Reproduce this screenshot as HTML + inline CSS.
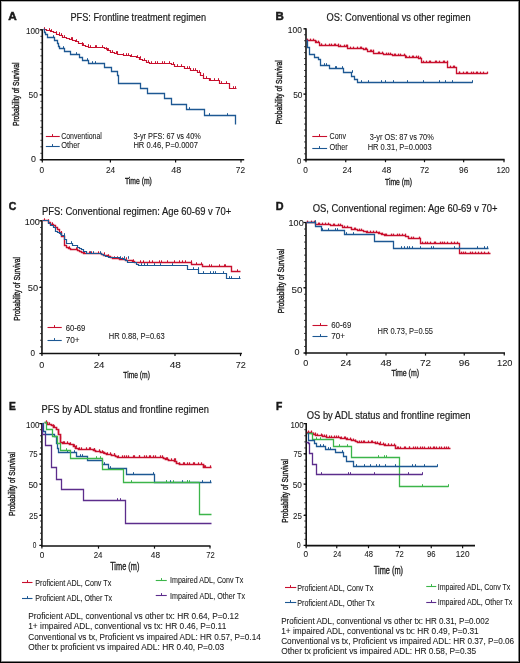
<!DOCTYPE html>
<html><head><meta charset="utf-8"><style>
html,body{margin:0;padding:0;background:#fff;}
svg{display:block;will-change:transform;}
text{font-family:"Liberation Sans",sans-serif;stroke:#1a1a1a;stroke-width:0.08px;}
</style></head><body>
<svg width="520" height="663" viewBox="0 0 520 663">
<rect width="520" height="663" fill="#fff"/>
<rect x="1" y="0" width="1" height="663" fill="#b0b0b0"/>
<rect x="0" y="1" width="520" height="1" fill="#b0b0b0"/>
<rect x="518" y="0" width="1" height="663" fill="#808080"/>
<rect x="0" y="661" width="520" height="1" fill="#808080"/>
<rect x="0" y="0" width="520" height="1" fill="#000"/>
<rect x="0" y="0" width="1" height="663" fill="#000"/>
<rect x="519" y="0" width="1" height="663" fill="#000"/>
<rect x="0" y="662" width="520" height="1" fill="#000"/>
<text x="8.2" y="19.65" font-size="11" font-weight="bold" fill="#1a1a1a" textLength="8.5" lengthAdjust="spacingAndGlyphs" style="stroke-width:0.5px">A</text>
<text x="70.5" y="20.8" font-size="10" font-weight="normal" fill="#1a1a1a" textLength="135.5" lengthAdjust="spacingAndGlyphs" style="stroke-width:0.18px">PFS: Frontline treatment regimen</text>
<line x1="42.3" y1="29.2" x2="42.3" y2="160.60000000000002" stroke="#111" stroke-width="1.6"/>
<line x1="40.4" y1="29.8" x2="42.3" y2="29.8" stroke="#222" stroke-width="0.9"/>
<line x1="40.4" y1="36.3" x2="42.3" y2="36.3" stroke="#222" stroke-width="0.9"/>
<line x1="40.4" y1="42.8" x2="42.3" y2="42.8" stroke="#222" stroke-width="0.9"/>
<line x1="40.4" y1="49.3" x2="42.3" y2="49.3" stroke="#222" stroke-width="0.9"/>
<line x1="40.4" y1="55.8" x2="42.3" y2="55.8" stroke="#222" stroke-width="0.9"/>
<line x1="40.4" y1="62.3" x2="42.3" y2="62.3" stroke="#222" stroke-width="0.9"/>
<line x1="40.4" y1="68.8" x2="42.3" y2="68.8" stroke="#222" stroke-width="0.9"/>
<line x1="40.4" y1="75.3" x2="42.3" y2="75.3" stroke="#222" stroke-width="0.9"/>
<line x1="40.4" y1="81.8" x2="42.3" y2="81.8" stroke="#222" stroke-width="0.9"/>
<line x1="40.4" y1="88.3" x2="42.3" y2="88.3" stroke="#222" stroke-width="0.9"/>
<line x1="40.4" y1="94.8" x2="42.3" y2="94.8" stroke="#222" stroke-width="0.9"/>
<line x1="40.4" y1="101.3" x2="42.3" y2="101.3" stroke="#222" stroke-width="0.9"/>
<line x1="40.4" y1="107.8" x2="42.3" y2="107.8" stroke="#222" stroke-width="0.9"/>
<line x1="40.4" y1="114.3" x2="42.3" y2="114.3" stroke="#222" stroke-width="0.9"/>
<line x1="40.4" y1="120.8" x2="42.3" y2="120.8" stroke="#222" stroke-width="0.9"/>
<line x1="40.4" y1="127.3" x2="42.3" y2="127.3" stroke="#222" stroke-width="0.9"/>
<line x1="40.4" y1="133.8" x2="42.3" y2="133.8" stroke="#222" stroke-width="0.9"/>
<line x1="40.4" y1="140.3" x2="42.3" y2="140.3" stroke="#222" stroke-width="0.9"/>
<line x1="40.4" y1="146.8" x2="42.3" y2="146.8" stroke="#222" stroke-width="0.9"/>
<line x1="40.4" y1="153.3" x2="42.3" y2="153.3" stroke="#222" stroke-width="0.9"/>
<line x1="40.4" y1="159.8" x2="42.3" y2="159.8" stroke="#222" stroke-width="0.9"/>
<line x1="39.699999999999996" y1="29.8" x2="42.3" y2="29.8" stroke="#111" stroke-width="1.2"/>
<text x="39.6" y="34.0788" font-size="8.6" text-anchor="end" fill="#1a1a1a" textLength="13.6" lengthAdjust="spacingAndGlyphs">100</text>
<line x1="39.699999999999996" y1="94.8" x2="42.3" y2="94.8" stroke="#111" stroke-width="1.2"/>
<text x="37.9" y="97.5788" font-size="8.6" text-anchor="end" fill="#1a1a1a" textLength="9.3" lengthAdjust="spacingAndGlyphs">50</text>
<line x1="39.699999999999996" y1="159.8" x2="42.3" y2="159.8" stroke="#111" stroke-width="1.2"/>
<text x="35.85" y="162.4788" font-size="8.6" text-anchor="end" fill="#1a1a1a" textLength="4.95" lengthAdjust="spacingAndGlyphs">0</text>
<line x1="41.5" y1="159.8" x2="244.2" y2="159.8" stroke="#111" stroke-width="1.6"/>
<line x1="42.3" y1="159.8" x2="42.3" y2="162.4" stroke="#111" stroke-width="1.2"/>
<text x="41.9" y="173.0" font-size="8.6" text-anchor="middle" fill="#1a1a1a" textLength="4.6" lengthAdjust="spacingAndGlyphs">0</text>
<line x1="110.4" y1="159.8" x2="110.4" y2="162.4" stroke="#111" stroke-width="1.2"/>
<text x="110.6" y="173.0" font-size="8.6" text-anchor="middle" fill="#1a1a1a" textLength="9.2" lengthAdjust="spacingAndGlyphs">24</text>
<line x1="175.6" y1="159.8" x2="175.6" y2="162.4" stroke="#111" stroke-width="1.2"/>
<text x="176.25" y="173.0" font-size="8.6" text-anchor="middle" fill="#1a1a1a" textLength="10" lengthAdjust="spacingAndGlyphs">48</text>
<line x1="241" y1="159.8" x2="241" y2="162.4" stroke="#111" stroke-width="1.2"/>
<text x="240.4" y="173.0" font-size="8.6" text-anchor="middle" fill="#1a1a1a" textLength="9.25" lengthAdjust="spacingAndGlyphs">72</text>
<text x="124.9" y="184.3" font-size="8.9" font-weight="normal" fill="#1a1a1a" textLength="27" lengthAdjust="spacingAndGlyphs" style="stroke-width:0.32px">Time (m)</text>
<text transform="translate(19.3 94.25) rotate(-90)" font-size="9.6" text-anchor="middle" fill="#1a1a1a" textLength="63.5" lengthAdjust="spacingAndGlyphs" style="stroke-width:0.4px">Probability of Survival</text>
<line x1="45.85" y1="136.5" x2="59.75" y2="136.5" stroke="#c8102e" stroke-width="1.1"/>
<line x1="52.5" y1="136.5" x2="52.5" y2="134.1" stroke="#c8102e" stroke-width="1.0"/>
<text x="61.2" y="138.9" font-size="8.3" font-weight="normal" fill="#1a1a1a" textLength="40.7" lengthAdjust="spacingAndGlyphs">Conventional</text>
<line x1="45.85" y1="146.5" x2="59.75" y2="146.5" stroke="#1d5893" stroke-width="1.1"/>
<line x1="52.5" y1="146.5" x2="52.5" y2="144.1" stroke="#1d5893" stroke-width="1.0"/>
<text x="61.2" y="148" font-size="8.3" font-weight="normal" fill="#1a1a1a" textLength="18.6" lengthAdjust="spacingAndGlyphs">Other</text>
<text x="133.4" y="139.4" font-size="8.3" font-weight="normal" fill="#1a1a1a" textLength="67.4" lengthAdjust="spacingAndGlyphs">3-yr PFS: 67 vs 40%</text>
<text x="133.4" y="147.9" font-size="8.3" font-weight="normal" fill="#1a1a1a" textLength="64.6" lengthAdjust="spacingAndGlyphs">HR 0.46, P=0.0007</text>
<text x="275.5" y="20" font-size="11" font-weight="bold" fill="#1a1a1a" textLength="8.3" lengthAdjust="spacingAndGlyphs" style="stroke-width:0.5px">B</text>
<text x="326.6" y="20.5" font-size="10" font-weight="normal" fill="#1a1a1a" textLength="144" lengthAdjust="spacingAndGlyphs" style="stroke-width:0.18px">OS: Conventional vs other regimen</text>
<line x1="306" y1="28.2" x2="306" y2="160.60000000000002" stroke="#111" stroke-width="1.6"/>
<line x1="304.1" y1="28.8" x2="306" y2="28.8" stroke="#222" stroke-width="0.9"/>
<line x1="304.1" y1="34.75454545454546" x2="306" y2="34.75454545454546" stroke="#222" stroke-width="0.9"/>
<line x1="304.1" y1="40.70909090909091" x2="306" y2="40.70909090909091" stroke="#222" stroke-width="0.9"/>
<line x1="304.1" y1="46.663636363636364" x2="306" y2="46.663636363636364" stroke="#222" stroke-width="0.9"/>
<line x1="304.1" y1="52.61818181818182" x2="306" y2="52.61818181818182" stroke="#222" stroke-width="0.9"/>
<line x1="304.1" y1="58.57272727272728" x2="306" y2="58.57272727272728" stroke="#222" stroke-width="0.9"/>
<line x1="304.1" y1="64.52727272727273" x2="306" y2="64.52727272727273" stroke="#222" stroke-width="0.9"/>
<line x1="304.1" y1="70.48181818181818" x2="306" y2="70.48181818181818" stroke="#222" stroke-width="0.9"/>
<line x1="304.1" y1="76.43636363636364" x2="306" y2="76.43636363636364" stroke="#222" stroke-width="0.9"/>
<line x1="304.1" y1="82.39090909090909" x2="306" y2="82.39090909090909" stroke="#222" stroke-width="0.9"/>
<line x1="304.1" y1="88.34545454545454" x2="306" y2="88.34545454545454" stroke="#222" stroke-width="0.9"/>
<line x1="304.1" y1="94.3" x2="306" y2="94.3" stroke="#222" stroke-width="0.9"/>
<line x1="304.1" y1="100.25454545454545" x2="306" y2="100.25454545454545" stroke="#222" stroke-width="0.9"/>
<line x1="304.1" y1="106.2090909090909" x2="306" y2="106.2090909090909" stroke="#222" stroke-width="0.9"/>
<line x1="304.1" y1="112.16363636363636" x2="306" y2="112.16363636363636" stroke="#222" stroke-width="0.9"/>
<line x1="304.1" y1="118.11818181818181" x2="306" y2="118.11818181818181" stroke="#222" stroke-width="0.9"/>
<line x1="304.1" y1="124.07272727272726" x2="306" y2="124.07272727272726" stroke="#222" stroke-width="0.9"/>
<line x1="304.1" y1="130.02727272727273" x2="306" y2="130.02727272727273" stroke="#222" stroke-width="0.9"/>
<line x1="304.1" y1="135.9818181818182" x2="306" y2="135.9818181818182" stroke="#222" stroke-width="0.9"/>
<line x1="304.1" y1="141.93636363636364" x2="306" y2="141.93636363636364" stroke="#222" stroke-width="0.9"/>
<line x1="304.1" y1="147.8909090909091" x2="306" y2="147.8909090909091" stroke="#222" stroke-width="0.9"/>
<line x1="304.1" y1="153.84545454545454" x2="306" y2="153.84545454545454" stroke="#222" stroke-width="0.9"/>
<line x1="304.1" y1="159.8" x2="306" y2="159.8" stroke="#222" stroke-width="0.9"/>
<line x1="303.4" y1="28.8" x2="306" y2="28.8" stroke="#111" stroke-width="1.2"/>
<text x="301.9" y="33.1788" font-size="8.6" text-anchor="end" fill="#1a1a1a" textLength="14.1" lengthAdjust="spacingAndGlyphs">100</text>
<line x1="303.4" y1="94.05" x2="306" y2="94.05" stroke="#111" stroke-width="1.2"/>
<text x="302.5" y="97.8288" font-size="8.6" text-anchor="end" fill="#1a1a1a" textLength="9.3" lengthAdjust="spacingAndGlyphs">50</text>
<line x1="303.4" y1="159.8" x2="306" y2="159.8" stroke="#111" stroke-width="1.2"/>
<text x="301.3" y="163.6788" font-size="8.6" text-anchor="end" fill="#1a1a1a" textLength="4.3" lengthAdjust="spacingAndGlyphs">0</text>
<line x1="305.2" y1="159.6" x2="504.6" y2="159.6" stroke="#111" stroke-width="1.6"/>
<line x1="306" y1="159.6" x2="306" y2="162.2" stroke="#111" stroke-width="1.2"/>
<text x="305.5" y="172.5" font-size="8.6" text-anchor="middle" fill="#1a1a1a" textLength="4.6" lengthAdjust="spacingAndGlyphs">0</text>
<line x1="345.75" y1="159.6" x2="345.75" y2="162.2" stroke="#111" stroke-width="1.2"/>
<text x="347.25" y="172.5" font-size="8.6" text-anchor="middle" fill="#1a1a1a" textLength="9.5" lengthAdjust="spacingAndGlyphs">24</text>
<line x1="385.5" y1="159.6" x2="385.5" y2="162.2" stroke="#111" stroke-width="1.2"/>
<text x="386.5" y="172.5" font-size="8.6" text-anchor="middle" fill="#1a1a1a" textLength="9.6" lengthAdjust="spacingAndGlyphs">48</text>
<line x1="424.5" y1="159.6" x2="424.5" y2="162.2" stroke="#111" stroke-width="1.2"/>
<text x="424.6" y="172.5" font-size="8.6" text-anchor="middle" fill="#1a1a1a" textLength="9.3" lengthAdjust="spacingAndGlyphs">72</text>
<line x1="463.65" y1="159.6" x2="463.65" y2="162.2" stroke="#111" stroke-width="1.2"/>
<text x="463.65" y="172.5" font-size="8.6" text-anchor="middle" fill="#1a1a1a" textLength="9.3" lengthAdjust="spacingAndGlyphs">96</text>
<line x1="504" y1="159.6" x2="504" y2="162.2" stroke="#111" stroke-width="1.2"/>
<text x="503.15" y="172.5" font-size="8.6" text-anchor="middle" fill="#1a1a1a" textLength="13.3" lengthAdjust="spacingAndGlyphs">120</text>
<text x="385" y="184.5" font-size="8.9" font-weight="normal" fill="#1a1a1a" textLength="26.9" lengthAdjust="spacingAndGlyphs" style="stroke-width:0.32px">Time (m)</text>
<text transform="translate(282.3 92.4) rotate(-90)" font-size="9.6" text-anchor="middle" fill="#1a1a1a" textLength="64.4" lengthAdjust="spacingAndGlyphs" style="stroke-width:0.4px">Probability of Survival</text>
<line x1="312.3" y1="136.5" x2="327.1" y2="136.5" stroke="#c8102e" stroke-width="1.1"/>
<line x1="319.5" y1="136.5" x2="319.5" y2="134.1" stroke="#c8102e" stroke-width="1.0"/>
<text x="329.5" y="139" font-size="8.3" font-weight="normal" fill="#1a1a1a" textLength="16.6" lengthAdjust="spacingAndGlyphs">Conv</text>
<line x1="312.3" y1="148.5" x2="327.1" y2="148.5" stroke="#1d5893" stroke-width="1.1"/>
<line x1="319.5" y1="148.5" x2="319.5" y2="146.1" stroke="#1d5893" stroke-width="1.0"/>
<text x="329.5" y="150" font-size="8.3" font-weight="normal" fill="#1a1a1a" textLength="18.2" lengthAdjust="spacingAndGlyphs">Other</text>
<text x="369.8" y="139.8" font-size="8.3" font-weight="normal" fill="#1a1a1a" textLength="63.9" lengthAdjust="spacingAndGlyphs">3-yr OS: 87 vs 70%</text>
<text x="367.7" y="150.3" font-size="8.3" font-weight="normal" fill="#1a1a1a" textLength="64" lengthAdjust="spacingAndGlyphs">HR 0.31, P=0.0003</text>
<text x="8.7" y="210.4" font-size="11" font-weight="bold" fill="#1a1a1a" textLength="7.6" lengthAdjust="spacingAndGlyphs" style="stroke-width:0.5px">C</text>
<text x="42" y="215.0" font-size="10" font-weight="normal" fill="#1a1a1a" textLength="189.3" lengthAdjust="spacingAndGlyphs" style="stroke-width:0.18px">PFS: Conventional regimen: Age 60-69 v 70+</text>
<line x1="41.95" y1="220.20000000000002" x2="41.95" y2="354.3" stroke="#111" stroke-width="1.6"/>
<line x1="40.050000000000004" y1="220.8" x2="41.95" y2="220.8" stroke="#222" stroke-width="0.9"/>
<line x1="40.050000000000004" y1="227.435" x2="41.95" y2="227.435" stroke="#222" stroke-width="0.9"/>
<line x1="40.050000000000004" y1="234.07000000000002" x2="41.95" y2="234.07000000000002" stroke="#222" stroke-width="0.9"/>
<line x1="40.050000000000004" y1="240.705" x2="41.95" y2="240.705" stroke="#222" stroke-width="0.9"/>
<line x1="40.050000000000004" y1="247.34" x2="41.95" y2="247.34" stroke="#222" stroke-width="0.9"/>
<line x1="40.050000000000004" y1="253.97500000000002" x2="41.95" y2="253.97500000000002" stroke="#222" stroke-width="0.9"/>
<line x1="40.050000000000004" y1="260.61" x2="41.95" y2="260.61" stroke="#222" stroke-width="0.9"/>
<line x1="40.050000000000004" y1="267.245" x2="41.95" y2="267.245" stroke="#222" stroke-width="0.9"/>
<line x1="40.050000000000004" y1="273.88" x2="41.95" y2="273.88" stroke="#222" stroke-width="0.9"/>
<line x1="40.050000000000004" y1="280.515" x2="41.95" y2="280.515" stroke="#222" stroke-width="0.9"/>
<line x1="40.050000000000004" y1="287.15" x2="41.95" y2="287.15" stroke="#222" stroke-width="0.9"/>
<line x1="40.050000000000004" y1="293.78499999999997" x2="41.95" y2="293.78499999999997" stroke="#222" stroke-width="0.9"/>
<line x1="40.050000000000004" y1="300.42" x2="41.95" y2="300.42" stroke="#222" stroke-width="0.9"/>
<line x1="40.050000000000004" y1="307.055" x2="41.95" y2="307.055" stroke="#222" stroke-width="0.9"/>
<line x1="40.050000000000004" y1="313.69" x2="41.95" y2="313.69" stroke="#222" stroke-width="0.9"/>
<line x1="40.050000000000004" y1="320.325" x2="41.95" y2="320.325" stroke="#222" stroke-width="0.9"/>
<line x1="40.050000000000004" y1="326.96000000000004" x2="41.95" y2="326.96000000000004" stroke="#222" stroke-width="0.9"/>
<line x1="40.050000000000004" y1="333.595" x2="41.95" y2="333.595" stroke="#222" stroke-width="0.9"/>
<line x1="40.050000000000004" y1="340.23" x2="41.95" y2="340.23" stroke="#222" stroke-width="0.9"/>
<line x1="40.050000000000004" y1="346.865" x2="41.95" y2="346.865" stroke="#222" stroke-width="0.9"/>
<line x1="40.050000000000004" y1="353.5" x2="41.95" y2="353.5" stroke="#222" stroke-width="0.9"/>
<line x1="39.35" y1="220.8" x2="41.95" y2="220.8" stroke="#111" stroke-width="1.2"/>
<text x="39.9" y="224.9788" font-size="8.6" text-anchor="end" fill="#1a1a1a" textLength="15.1" lengthAdjust="spacingAndGlyphs">100</text>
<line x1="39.35" y1="287.4" x2="41.95" y2="287.4" stroke="#111" stroke-width="1.2"/>
<text x="38.1" y="291.4788" font-size="8.6" text-anchor="end" fill="#1a1a1a" textLength="10.3" lengthAdjust="spacingAndGlyphs">50</text>
<line x1="39.35" y1="353.5" x2="41.95" y2="353.5" stroke="#111" stroke-width="1.2"/>
<text x="35" y="356.0788" font-size="8.6" text-anchor="end" fill="#1a1a1a" textLength="4.5" lengthAdjust="spacingAndGlyphs">0</text>
<line x1="41.150000000000006" y1="353.5" x2="241.9" y2="353.5" stroke="#111" stroke-width="1.6"/>
<line x1="41.95" y1="353.5" x2="41.95" y2="356.1" stroke="#111" stroke-width="1.2"/>
<text x="41.75" y="367.5" font-size="9" text-anchor="middle" fill="#1a1a1a" textLength="5" lengthAdjust="spacingAndGlyphs">0</text>
<line x1="98.75" y1="353.5" x2="98.75" y2="356.1" stroke="#111" stroke-width="1.2"/>
<text x="99.1" y="367.5" font-size="9" text-anchor="middle" fill="#1a1a1a" textLength="10.75" lengthAdjust="spacingAndGlyphs">24</text>
<line x1="175" y1="353.5" x2="175" y2="356.1" stroke="#111" stroke-width="1.2"/>
<text x="175.3" y="367.5" font-size="9" text-anchor="middle" fill="#1a1a1a" textLength="11.2" lengthAdjust="spacingAndGlyphs">48</text>
<line x1="240.5" y1="353.5" x2="240.5" y2="356.1" stroke="#111" stroke-width="1.2"/>
<text x="240.8" y="367.5" font-size="9" text-anchor="middle" fill="#1a1a1a" textLength="10.1" lengthAdjust="spacingAndGlyphs">72</text>
<text x="123.3" y="378.3" font-size="9.2" font-weight="normal" fill="#1a1a1a" textLength="26.6" lengthAdjust="spacingAndGlyphs" style="stroke-width:0.32px">Time (m)</text>
<text transform="translate(19.6 288.85) rotate(-90)" font-size="9.8" text-anchor="middle" fill="#1a1a1a" textLength="63.7" lengthAdjust="spacingAndGlyphs" style="stroke-width:0.4px">Probability of Survival</text>
<line x1="47.5" y1="327.5" x2="61.75" y2="327.5" stroke="#c8102e" stroke-width="1.1"/>
<line x1="54.5" y1="327.5" x2="54.5" y2="325.1" stroke="#c8102e" stroke-width="1.0"/>
<text x="65.65" y="330.8" font-size="8.3" font-weight="normal" fill="#1a1a1a" textLength="19.7" lengthAdjust="spacingAndGlyphs">60-69</text>
<line x1="47.5" y1="340.5" x2="61.75" y2="340.5" stroke="#1d5893" stroke-width="1.1"/>
<line x1="54.5" y1="340.5" x2="54.5" y2="338.1" stroke="#1d5893" stroke-width="1.0"/>
<text x="65.65" y="342.6" font-size="8.3" font-weight="normal" fill="#1a1a1a" textLength="14" lengthAdjust="spacingAndGlyphs">70+</text>
<text x="108.7" y="339.4" font-size="8.3" font-weight="normal" fill="#1a1a1a" textLength="55.9" lengthAdjust="spacingAndGlyphs">HR 0.88, P=0.63</text>
<text x="275.8" y="209.9" font-size="11" font-weight="bold" fill="#1a1a1a" textLength="7.8" lengthAdjust="spacingAndGlyphs" style="stroke-width:0.5px">D</text>
<text x="312.7" y="212.4" font-size="10" font-weight="normal" fill="#1a1a1a" textLength="184.8" lengthAdjust="spacingAndGlyphs" style="stroke-width:0.18px">OS, Conventional regimen: Age 60-69 v 70+</text>
<line x1="306" y1="221.9" x2="306" y2="353.8" stroke="#111" stroke-width="1.6"/>
<line x1="304.1" y1="222.5" x2="306" y2="222.5" stroke="#222" stroke-width="0.9"/>
<line x1="304.1" y1="229.025" x2="306" y2="229.025" stroke="#222" stroke-width="0.9"/>
<line x1="304.1" y1="235.55" x2="306" y2="235.55" stroke="#222" stroke-width="0.9"/>
<line x1="304.1" y1="242.075" x2="306" y2="242.075" stroke="#222" stroke-width="0.9"/>
<line x1="304.1" y1="248.6" x2="306" y2="248.6" stroke="#222" stroke-width="0.9"/>
<line x1="304.1" y1="255.125" x2="306" y2="255.125" stroke="#222" stroke-width="0.9"/>
<line x1="304.1" y1="261.65" x2="306" y2="261.65" stroke="#222" stroke-width="0.9"/>
<line x1="304.1" y1="268.175" x2="306" y2="268.175" stroke="#222" stroke-width="0.9"/>
<line x1="304.1" y1="274.7" x2="306" y2="274.7" stroke="#222" stroke-width="0.9"/>
<line x1="304.1" y1="281.225" x2="306" y2="281.225" stroke="#222" stroke-width="0.9"/>
<line x1="304.1" y1="287.75" x2="306" y2="287.75" stroke="#222" stroke-width="0.9"/>
<line x1="304.1" y1="294.275" x2="306" y2="294.275" stroke="#222" stroke-width="0.9"/>
<line x1="304.1" y1="300.8" x2="306" y2="300.8" stroke="#222" stroke-width="0.9"/>
<line x1="304.1" y1="307.325" x2="306" y2="307.325" stroke="#222" stroke-width="0.9"/>
<line x1="304.1" y1="313.85" x2="306" y2="313.85" stroke="#222" stroke-width="0.9"/>
<line x1="304.1" y1="320.375" x2="306" y2="320.375" stroke="#222" stroke-width="0.9"/>
<line x1="304.1" y1="326.9" x2="306" y2="326.9" stroke="#222" stroke-width="0.9"/>
<line x1="304.1" y1="333.425" x2="306" y2="333.425" stroke="#222" stroke-width="0.9"/>
<line x1="304.1" y1="339.95" x2="306" y2="339.95" stroke="#222" stroke-width="0.9"/>
<line x1="304.1" y1="346.475" x2="306" y2="346.475" stroke="#222" stroke-width="0.9"/>
<line x1="304.1" y1="353.0" x2="306" y2="353.0" stroke="#222" stroke-width="0.9"/>
<line x1="303.4" y1="222.5" x2="306" y2="222.5" stroke="#111" stroke-width="1.2"/>
<text x="303.7" y="226.3288" font-size="8.6" text-anchor="end" fill="#1a1a1a" textLength="15.1" lengthAdjust="spacingAndGlyphs">100</text>
<line x1="303.4" y1="287.75" x2="306" y2="287.75" stroke="#111" stroke-width="1.2"/>
<text x="302.5" y="293.4788" font-size="8.6" text-anchor="end" fill="#1a1a1a" textLength="10.9" lengthAdjust="spacingAndGlyphs">50</text>
<line x1="303.4" y1="353" x2="306" y2="353" stroke="#111" stroke-width="1.2"/>
<text x="299.5" y="355.0788" font-size="8.6" text-anchor="end" fill="#1a1a1a" textLength="5" lengthAdjust="spacingAndGlyphs">0</text>
<line x1="305.2" y1="353" x2="505" y2="353" stroke="#111" stroke-width="1.6"/>
<line x1="306" y1="353" x2="306" y2="355.6" stroke="#111" stroke-width="1.2"/>
<text x="305.75" y="365.5" font-size="9" text-anchor="middle" fill="#1a1a1a" textLength="5" lengthAdjust="spacingAndGlyphs">0</text>
<line x1="346.75" y1="353" x2="346.75" y2="355.6" stroke="#111" stroke-width="1.2"/>
<text x="345.9" y="365.5" font-size="9" text-anchor="middle" fill="#1a1a1a" textLength="10.75" lengthAdjust="spacingAndGlyphs">24</text>
<line x1="386" y1="353" x2="386" y2="355.6" stroke="#111" stroke-width="1.2"/>
<text x="386" y="365.5" font-size="9" text-anchor="middle" fill="#1a1a1a" textLength="11" lengthAdjust="spacingAndGlyphs">48</text>
<line x1="425.5" y1="353" x2="425.5" y2="355.6" stroke="#111" stroke-width="1.2"/>
<text x="425.5" y="365.5" font-size="9" text-anchor="middle" fill="#1a1a1a" textLength="11" lengthAdjust="spacingAndGlyphs">72</text>
<line x1="464.25" y1="353" x2="464.25" y2="355.6" stroke="#111" stroke-width="1.2"/>
<text x="464.25" y="365.5" font-size="9" text-anchor="middle" fill="#1a1a1a" textLength="11" lengthAdjust="spacingAndGlyphs">96</text>
<line x1="504.25" y1="353" x2="504.25" y2="355.6" stroke="#111" stroke-width="1.2"/>
<text x="504.75" y="365.5" font-size="9" text-anchor="middle" fill="#1a1a1a" textLength="15.5" lengthAdjust="spacingAndGlyphs">120</text>
<text x="391.4" y="375.9" font-size="9.2" font-weight="normal" fill="#1a1a1a" textLength="27.7" lengthAdjust="spacingAndGlyphs" style="stroke-width:0.32px">Time (m)</text>
<text transform="translate(283.6 281) rotate(-90)" font-size="9.6" text-anchor="middle" fill="#1a1a1a" textLength="64.5" lengthAdjust="spacingAndGlyphs" style="stroke-width:0.4px">Probability of Survival</text>
<line x1="312.5" y1="325.5" x2="327.5" y2="325.5" stroke="#c8102e" stroke-width="1.1"/>
<line x1="320.5" y1="325.5" x2="320.5" y2="323.1" stroke="#c8102e" stroke-width="1.0"/>
<text x="331.25" y="327.5" font-size="8.3" font-weight="normal" fill="#1a1a1a" textLength="20" lengthAdjust="spacingAndGlyphs">60-69</text>
<line x1="312.5" y1="336.5" x2="327.5" y2="336.5" stroke="#1d5893" stroke-width="1.1"/>
<line x1="320.5" y1="336.5" x2="320.5" y2="334.1" stroke="#1d5893" stroke-width="1.0"/>
<text x="331.25" y="339.25" font-size="8.3" font-weight="normal" fill="#1a1a1a" textLength="13.8" lengthAdjust="spacingAndGlyphs">70+</text>
<text x="377.5" y="334.25" font-size="8.3" font-weight="normal" fill="#1a1a1a" textLength="55.5" lengthAdjust="spacingAndGlyphs">HR 0.73, P=0.55</text>
<text x="9" y="410.1" font-size="11" font-weight="bold" fill="#1a1a1a" textLength="6.8" lengthAdjust="spacingAndGlyphs" style="stroke-width:0.5px">E</text>
<text x="41.5" y="413.4" font-size="10" font-weight="normal" fill="#1a1a1a" textLength="167.3" lengthAdjust="spacingAndGlyphs" style="stroke-width:0.18px">PFS by ADL status and frontline regimen</text>
<line x1="41.9" y1="423.0" x2="41.9" y2="546.1999999999999" stroke="#111" stroke-width="1.6"/>
<line x1="40.0" y1="423.6" x2="41.9" y2="423.6" stroke="#222" stroke-width="0.9"/>
<line x1="40.0" y1="429.69" x2="41.9" y2="429.69" stroke="#222" stroke-width="0.9"/>
<line x1="40.0" y1="435.78000000000003" x2="41.9" y2="435.78000000000003" stroke="#222" stroke-width="0.9"/>
<line x1="40.0" y1="441.87" x2="41.9" y2="441.87" stroke="#222" stroke-width="0.9"/>
<line x1="40.0" y1="447.96000000000004" x2="41.9" y2="447.96000000000004" stroke="#222" stroke-width="0.9"/>
<line x1="40.0" y1="454.05" x2="41.9" y2="454.05" stroke="#222" stroke-width="0.9"/>
<line x1="40.0" y1="460.14" x2="41.9" y2="460.14" stroke="#222" stroke-width="0.9"/>
<line x1="40.0" y1="466.23" x2="41.9" y2="466.23" stroke="#222" stroke-width="0.9"/>
<line x1="40.0" y1="472.32" x2="41.9" y2="472.32" stroke="#222" stroke-width="0.9"/>
<line x1="40.0" y1="478.41" x2="41.9" y2="478.41" stroke="#222" stroke-width="0.9"/>
<line x1="40.0" y1="484.5" x2="41.9" y2="484.5" stroke="#222" stroke-width="0.9"/>
<line x1="40.0" y1="490.59000000000003" x2="41.9" y2="490.59000000000003" stroke="#222" stroke-width="0.9"/>
<line x1="40.0" y1="496.68" x2="41.9" y2="496.68" stroke="#222" stroke-width="0.9"/>
<line x1="40.0" y1="502.77" x2="41.9" y2="502.77" stroke="#222" stroke-width="0.9"/>
<line x1="40.0" y1="508.86" x2="41.9" y2="508.86" stroke="#222" stroke-width="0.9"/>
<line x1="40.0" y1="514.95" x2="41.9" y2="514.95" stroke="#222" stroke-width="0.9"/>
<line x1="40.0" y1="521.04" x2="41.9" y2="521.04" stroke="#222" stroke-width="0.9"/>
<line x1="40.0" y1="527.13" x2="41.9" y2="527.13" stroke="#222" stroke-width="0.9"/>
<line x1="40.0" y1="533.22" x2="41.9" y2="533.22" stroke="#222" stroke-width="0.9"/>
<line x1="40.0" y1="539.31" x2="41.9" y2="539.31" stroke="#222" stroke-width="0.9"/>
<line x1="40.0" y1="545.4" x2="41.9" y2="545.4" stroke="#222" stroke-width="0.9"/>
<line x1="39.3" y1="423.6" x2="41.9" y2="423.6" stroke="#111" stroke-width="1.2"/>
<text x="39.4" y="428.0788" font-size="8.6" text-anchor="end" fill="#1a1a1a" textLength="13.5" lengthAdjust="spacingAndGlyphs">100</text>
<line x1="39.3" y1="454.1" x2="41.9" y2="454.1" stroke="#111" stroke-width="1.2"/>
<text x="37.6" y="456.9788" font-size="8.6" text-anchor="end" fill="#1a1a1a" textLength="8.6" lengthAdjust="spacingAndGlyphs">75</text>
<line x1="39.3" y1="484.05" x2="41.9" y2="484.05" stroke="#111" stroke-width="1.2"/>
<text x="37.85" y="487.6288" font-size="8.6" text-anchor="end" fill="#1a1a1a" textLength="9.45" lengthAdjust="spacingAndGlyphs">50</text>
<line x1="39.3" y1="515.4" x2="41.9" y2="515.4" stroke="#111" stroke-width="1.2"/>
<text x="37.85" y="518.7788" font-size="8.6" text-anchor="end" fill="#1a1a1a" textLength="8.85" lengthAdjust="spacingAndGlyphs">25</text>
<line x1="39.3" y1="545.4" x2="41.9" y2="545.4" stroke="#111" stroke-width="1.2"/>
<text x="36.3" y="548.4788" font-size="8.6" text-anchor="end" fill="#1a1a1a" textLength="3.6" lengthAdjust="spacingAndGlyphs">0</text>
<line x1="41.1" y1="546" x2="210.5" y2="546" stroke="#111" stroke-width="1.6"/>
<line x1="41.9" y1="546" x2="41.9" y2="548.6" stroke="#111" stroke-width="1.2"/>
<text x="42" y="558.15" font-size="8.2" text-anchor="middle" fill="#1a1a1a" textLength="4.6" lengthAdjust="spacingAndGlyphs">0</text>
<line x1="98.5" y1="546" x2="98.5" y2="548.6" stroke="#111" stroke-width="1.2"/>
<text x="98.1" y="558.15" font-size="8.2" text-anchor="middle" fill="#1a1a1a" textLength="8.8" lengthAdjust="spacingAndGlyphs">24</text>
<line x1="154.5" y1="546" x2="154.5" y2="548.6" stroke="#111" stroke-width="1.2"/>
<text x="155.4" y="558.15" font-size="8.2" text-anchor="middle" fill="#1a1a1a" textLength="9.2" lengthAdjust="spacingAndGlyphs">48</text>
<line x1="210" y1="546" x2="210" y2="548.6" stroke="#111" stroke-width="1.2"/>
<text x="210.4" y="558.15" font-size="8.2" text-anchor="middle" fill="#1a1a1a" textLength="8.45" lengthAdjust="spacingAndGlyphs">72</text>
<text x="110.15" y="569.85" font-size="10.9" font-weight="normal" fill="#1a1a1a" textLength="29.2" lengthAdjust="spacingAndGlyphs" style="stroke-width:0.35px">Time (m)</text>
<text transform="translate(14.9 484) rotate(-90)" font-size="9.8" text-anchor="middle" fill="#1a1a1a" textLength="64" lengthAdjust="spacingAndGlyphs" style="stroke-width:0.4px">Probability of Survival</text>
<line x1="22" y1="582.5" x2="32.5" y2="582.5" stroke="#c8102e" stroke-width="1.1"/>
<line x1="27.5" y1="582.5" x2="27.5" y2="580.1" stroke="#c8102e" stroke-width="1.0"/>
<text x="35.3" y="585.6" font-size="8.3" font-weight="normal" fill="#1a1a1a" textLength="76" lengthAdjust="spacingAndGlyphs">Proficient ADL, Conv Tx</text>
<line x1="22" y1="598.5" x2="32.5" y2="598.5" stroke="#1d5893" stroke-width="1.1"/>
<line x1="27.5" y1="598.5" x2="27.5" y2="596.1" stroke="#1d5893" stroke-width="1.0"/>
<text x="35.3" y="600.6" font-size="8.3" font-weight="normal" fill="#1a1a1a" textLength="76.9" lengthAdjust="spacingAndGlyphs">Proficient ADL, Other Tx</text>
<line x1="155.75" y1="580.5" x2="166.75" y2="580.5" stroke="#3cb54a" stroke-width="1.1"/>
<line x1="161.5" y1="580.5" x2="161.5" y2="578.1" stroke="#3cb54a" stroke-width="1.0"/>
<text x="170" y="583.4" font-size="8.3" font-weight="normal" fill="#1a1a1a" textLength="73.25" lengthAdjust="spacingAndGlyphs">Impaired ADL, Conv Tx</text>
<line x1="155.75" y1="595.5" x2="166.75" y2="595.5" stroke="#5c2d8c" stroke-width="1.1"/>
<line x1="161.5" y1="595.5" x2="161.5" y2="593.1" stroke="#5c2d8c" stroke-width="1.0"/>
<text x="170" y="598.8" font-size="8.3" font-weight="normal" fill="#1a1a1a" textLength="75" lengthAdjust="spacingAndGlyphs">Impaired ADL, Other Tx</text>
<text x="28.25" y="619.1" font-size="9" font-weight="normal" fill="#1a1a1a" textLength="210.5" lengthAdjust="spacingAndGlyphs">Proficient ADL, conventional vs other tx: HR 0.64, P=0.12</text>
<text x="28.25" y="629.1" font-size="9" font-weight="normal" fill="#1a1a1a" textLength="198" lengthAdjust="spacingAndGlyphs">1+ impaired ADL, conventional vs tx: HR 0.46, P=0.11</text>
<text x="28.25" y="639.7" font-size="9" font-weight="normal" fill="#1a1a1a" textLength="232.5" lengthAdjust="spacingAndGlyphs">Conventional vs tx, Proficient vs impaired ADL: HR 0.57, P=0.14</text>
<text x="28.25" y="649.5" font-size="9" font-weight="normal" fill="#1a1a1a" textLength="196" lengthAdjust="spacingAndGlyphs">Other tx proficient vs impaired ADL: HR 0.40, P=0.03</text>
<text x="275.9" y="410.1" font-size="11" font-weight="bold" fill="#1a1a1a" textLength="6.3" lengthAdjust="spacingAndGlyphs" style="stroke-width:0.5px">F</text>
<text x="306.8" y="418.5" font-size="10" font-weight="normal" fill="#1a1a1a" textLength="163.7" lengthAdjust="spacingAndGlyphs" style="stroke-width:0.18px">OS by ADL status and frontline regimen</text>
<line x1="306.2" y1="423.0" x2="306.2" y2="546.1999999999999" stroke="#111" stroke-width="1.6"/>
<line x1="304.3" y1="423.6" x2="306.2" y2="423.6" stroke="#222" stroke-width="0.9"/>
<line x1="304.3" y1="429.69" x2="306.2" y2="429.69" stroke="#222" stroke-width="0.9"/>
<line x1="304.3" y1="435.78000000000003" x2="306.2" y2="435.78000000000003" stroke="#222" stroke-width="0.9"/>
<line x1="304.3" y1="441.87" x2="306.2" y2="441.87" stroke="#222" stroke-width="0.9"/>
<line x1="304.3" y1="447.96000000000004" x2="306.2" y2="447.96000000000004" stroke="#222" stroke-width="0.9"/>
<line x1="304.3" y1="454.05" x2="306.2" y2="454.05" stroke="#222" stroke-width="0.9"/>
<line x1="304.3" y1="460.14" x2="306.2" y2="460.14" stroke="#222" stroke-width="0.9"/>
<line x1="304.3" y1="466.23" x2="306.2" y2="466.23" stroke="#222" stroke-width="0.9"/>
<line x1="304.3" y1="472.32" x2="306.2" y2="472.32" stroke="#222" stroke-width="0.9"/>
<line x1="304.3" y1="478.41" x2="306.2" y2="478.41" stroke="#222" stroke-width="0.9"/>
<line x1="304.3" y1="484.5" x2="306.2" y2="484.5" stroke="#222" stroke-width="0.9"/>
<line x1="304.3" y1="490.59000000000003" x2="306.2" y2="490.59000000000003" stroke="#222" stroke-width="0.9"/>
<line x1="304.3" y1="496.68" x2="306.2" y2="496.68" stroke="#222" stroke-width="0.9"/>
<line x1="304.3" y1="502.77" x2="306.2" y2="502.77" stroke="#222" stroke-width="0.9"/>
<line x1="304.3" y1="508.86" x2="306.2" y2="508.86" stroke="#222" stroke-width="0.9"/>
<line x1="304.3" y1="514.95" x2="306.2" y2="514.95" stroke="#222" stroke-width="0.9"/>
<line x1="304.3" y1="521.04" x2="306.2" y2="521.04" stroke="#222" stroke-width="0.9"/>
<line x1="304.3" y1="527.13" x2="306.2" y2="527.13" stroke="#222" stroke-width="0.9"/>
<line x1="304.3" y1="533.22" x2="306.2" y2="533.22" stroke="#222" stroke-width="0.9"/>
<line x1="304.3" y1="539.31" x2="306.2" y2="539.31" stroke="#222" stroke-width="0.9"/>
<line x1="304.3" y1="545.4" x2="306.2" y2="545.4" stroke="#222" stroke-width="0.9"/>
<line x1="303.59999999999997" y1="423.6" x2="306.2" y2="423.6" stroke="#111" stroke-width="1.2"/>
<text x="303.7" y="428.1788" font-size="8.6" text-anchor="end" fill="#1a1a1a" textLength="13.3" lengthAdjust="spacingAndGlyphs">100</text>
<line x1="303.59999999999997" y1="453.7" x2="306.2" y2="453.7" stroke="#111" stroke-width="1.2"/>
<text x="301.9" y="457.2788" font-size="8.6" text-anchor="end" fill="#1a1a1a" textLength="8.5" lengthAdjust="spacingAndGlyphs">75</text>
<line x1="303.59999999999997" y1="484.05" x2="306.2" y2="484.05" stroke="#111" stroke-width="1.2"/>
<text x="301.85" y="487.6288" font-size="8.6" text-anchor="end" fill="#1a1a1a" textLength="9.15" lengthAdjust="spacingAndGlyphs">50</text>
<line x1="303.59999999999997" y1="515.4" x2="306.2" y2="515.4" stroke="#111" stroke-width="1.2"/>
<text x="301.85" y="518.7788" font-size="8.6" text-anchor="end" fill="#1a1a1a" textLength="8.85" lengthAdjust="spacingAndGlyphs">25</text>
<line x1="303.59999999999997" y1="545.4" x2="306.2" y2="545.4" stroke="#111" stroke-width="1.2"/>
<text x="300.6" y="548.4788" font-size="8.6" text-anchor="end" fill="#1a1a1a" textLength="3.9" lengthAdjust="spacingAndGlyphs">0</text>
<line x1="305.4" y1="545.6" x2="475" y2="545.6" stroke="#111" stroke-width="1.6"/>
<line x1="306.2" y1="545.6" x2="306.2" y2="548.2" stroke="#111" stroke-width="1.2"/>
<text x="305.75" y="557.3" font-size="8.2" text-anchor="middle" fill="#1a1a1a" textLength="4.6" lengthAdjust="spacingAndGlyphs">0</text>
<line x1="336.75" y1="545.6" x2="336.75" y2="548.2" stroke="#111" stroke-width="1.2"/>
<text x="337.25" y="557.3" font-size="8.2" text-anchor="middle" fill="#1a1a1a" textLength="8" lengthAdjust="spacingAndGlyphs">24</text>
<line x1="368.5" y1="545.6" x2="368.5" y2="548.2" stroke="#111" stroke-width="1.2"/>
<text x="368.75" y="557.3" font-size="8.2" text-anchor="middle" fill="#1a1a1a" textLength="8.5" lengthAdjust="spacingAndGlyphs">48</text>
<line x1="399.5" y1="545.6" x2="399.5" y2="548.2" stroke="#111" stroke-width="1.2"/>
<text x="399.5" y="557.3" font-size="8.2" text-anchor="middle" fill="#1a1a1a" textLength="8.5" lengthAdjust="spacingAndGlyphs">72</text>
<line x1="431.25" y1="545.6" x2="431.25" y2="548.2" stroke="#111" stroke-width="1.2"/>
<text x="431.25" y="557.3" font-size="8.2" text-anchor="middle" fill="#1a1a1a" textLength="8.5" lengthAdjust="spacingAndGlyphs">96</text>
<line x1="462.6" y1="545.6" x2="462.6" y2="548.2" stroke="#111" stroke-width="1.2"/>
<text x="462.6" y="557.3" font-size="8.2" text-anchor="middle" fill="#1a1a1a" textLength="13.75" lengthAdjust="spacingAndGlyphs">120</text>
<text x="373.8" y="573.5" font-size="10.9" font-weight="normal" fill="#1a1a1a" textLength="29.2" lengthAdjust="spacingAndGlyphs" style="stroke-width:0.35px">Time (m)</text>
<text transform="translate(288.2 490.9) rotate(-90)" font-size="9.8" text-anchor="middle" fill="#1a1a1a" textLength="63.8" lengthAdjust="spacingAndGlyphs" style="stroke-width:0.4px">Probability of Survival</text>
<line x1="285" y1="587.5" x2="296.25" y2="587.5" stroke="#c8102e" stroke-width="1.1"/>
<line x1="290.5" y1="587.5" x2="290.5" y2="585.1" stroke="#c8102e" stroke-width="1.0"/>
<text x="297.3" y="591" font-size="8.3" font-weight="normal" fill="#1a1a1a" textLength="76" lengthAdjust="spacingAndGlyphs">Proficient ADL, Conv Tx</text>
<line x1="285" y1="602.5" x2="296.25" y2="602.5" stroke="#1d5893" stroke-width="1.1"/>
<line x1="290.5" y1="602.5" x2="290.5" y2="600.1" stroke="#1d5893" stroke-width="1.0"/>
<text x="297.3" y="606.3" font-size="8.3" font-weight="normal" fill="#1a1a1a" textLength="77.3" lengthAdjust="spacingAndGlyphs">Proficient ADL, Other Tx</text>
<line x1="426.25" y1="586.5" x2="436.25" y2="586.5" stroke="#3cb54a" stroke-width="1.1"/>
<line x1="431.5" y1="586.5" x2="431.5" y2="584.1" stroke="#3cb54a" stroke-width="1.0"/>
<text x="437.7" y="589.9" font-size="8.3" font-weight="normal" fill="#1a1a1a" textLength="72.7" lengthAdjust="spacingAndGlyphs">Impaired ADL, Conv Tx</text>
<line x1="426.25" y1="602.5" x2="436.25" y2="602.5" stroke="#5c2d8c" stroke-width="1.1"/>
<line x1="431.5" y1="602.5" x2="431.5" y2="600.1" stroke="#5c2d8c" stroke-width="1.0"/>
<text x="437.7" y="605.3" font-size="8.3" font-weight="normal" fill="#1a1a1a" textLength="74.6" lengthAdjust="spacingAndGlyphs">Impaired ADL, Other Tx</text>
<text x="281.2" y="623.5" font-size="9" font-weight="normal" fill="#1a1a1a" textLength="208" lengthAdjust="spacingAndGlyphs">Proficient ADL, conventional vs other tx: HR 0.31, P=0.002</text>
<text x="281.2" y="633.5" font-size="9" font-weight="normal" fill="#1a1a1a" textLength="197.5" lengthAdjust="spacingAndGlyphs">1+ impaired ADL, conventional vs tx: HR 0.49, P=0.31</text>
<text x="281.2" y="643.7" font-size="9" font-weight="normal" fill="#1a1a1a" textLength="233" lengthAdjust="spacingAndGlyphs">Conventional vs tx, Proficient vs impaired ADL: HR 0.37, P=0.06</text>
<text x="281.2" y="653.8" font-size="9" font-weight="normal" fill="#1a1a1a" textLength="195" lengthAdjust="spacingAndGlyphs">Other tx proficient vs impaired ADL: HR 0.58, P=0.35</text>
<path d="M43.50,29.50 V29.50 H46.50 V30.50 H50.50 V31.50 H53.50 V32.50 H56.50 V34.50 H59.50 V35.50 H62.50 V37.50 H66.50 V38.50 H69.50 V39.50 H72.50 V40.50 H75.50 V41.50 H78.50 V43.50 H82.50 V45.50 H85.50 V46.50 H88.50 V47.50 H91.50 V47.50 H94.50 V47.50 H98.50 V47.50 H101.50 V47.50 H104.50 V48.50 H107.50 V50.50 H110.50 V52.50 H114.50 V53.50 H117.50 V54.50 H120.50 V54.50 H123.50 V55.50 H126.50 V55.50 H130.50 V56.50 H133.50 V56.50 H136.50 V57.50 H139.50 V59.50 H142.50 V60.50 H146.50 V62.50 H149.50 V63.50 H152.50 V63.50 H155.50 V63.50 H158.50 V63.50 H161.50 V63.50 H165.50 V63.50 H168.50 V63.50 H171.50 V64.50 H174.50 V66.50 H177.50 V66.50 H181.50 V66.50 H184.50 V68.50 H187.50 V68.50 H190.50 V70.50 H193.50 V70.50 H197.50 V72.50 H200.50 V75.50 H203.50 V78.50 H206.50 V78.50 H209.50 V80.50 H213.50 V80.50 H216.50 V80.50 H219.50 V83.50 H222.50 V83.50 H225.50 V83.50 H229.50 V88.50 H232.50 V88.50 H235.50 V88.50 H236.50 V88.50" fill="none" stroke="#c8102e" stroke-width="1.2"/>
<line x1="44.50" y1="29.80" x2="44.50" y2="27.20" stroke="#c8102e" stroke-width="1.0"/>
<line x1="49.50" y1="30.80" x2="49.50" y2="28.20" stroke="#c8102e" stroke-width="1.0"/>
<line x1="51.50" y1="31.80" x2="51.50" y2="29.20" stroke="#c8102e" stroke-width="1.0"/>
<line x1="56.50" y1="33.80" x2="56.50" y2="31.20" stroke="#c8102e" stroke-width="1.0"/>
<line x1="59.50" y1="34.80" x2="59.50" y2="32.20" stroke="#c8102e" stroke-width="1.0"/>
<line x1="61.50" y1="35.80" x2="61.50" y2="33.20" stroke="#c8102e" stroke-width="1.0"/>
<line x1="64.50" y1="37.80" x2="64.50" y2="35.20" stroke="#c8102e" stroke-width="1.0"/>
<line x1="71.50" y1="39.80" x2="71.50" y2="37.20" stroke="#c8102e" stroke-width="1.0"/>
<line x1="72.50" y1="39.80" x2="72.50" y2="37.20" stroke="#c8102e" stroke-width="1.0"/>
<line x1="76.50" y1="41.80" x2="76.50" y2="39.20" stroke="#c8102e" stroke-width="1.0"/>
<line x1="82.50" y1="44.80" x2="82.50" y2="42.20" stroke="#c8102e" stroke-width="1.0"/>
<line x1="83.50" y1="45.80" x2="83.50" y2="43.20" stroke="#c8102e" stroke-width="1.0"/>
<line x1="88.50" y1="46.80" x2="88.50" y2="44.20" stroke="#c8102e" stroke-width="1.0"/>
<line x1="90.50" y1="47.80" x2="90.50" y2="45.20" stroke="#c8102e" stroke-width="1.0"/>
<line x1="95.50" y1="47.80" x2="95.50" y2="45.20" stroke="#c8102e" stroke-width="1.0"/>
<line x1="96.50" y1="47.80" x2="96.50" y2="45.20" stroke="#c8102e" stroke-width="1.0"/>
<line x1="102.50" y1="47.80" x2="102.50" y2="45.20" stroke="#c8102e" stroke-width="1.0"/>
<line x1="106.50" y1="49.80" x2="106.50" y2="47.20" stroke="#c8102e" stroke-width="1.0"/>
<line x1="108.50" y1="50.80" x2="108.50" y2="48.20" stroke="#c8102e" stroke-width="1.0"/>
<line x1="112.50" y1="52.80" x2="112.50" y2="50.20" stroke="#c8102e" stroke-width="1.0"/>
<line x1="116.50" y1="53.80" x2="116.50" y2="51.20" stroke="#c8102e" stroke-width="1.0"/>
<line x1="117.50" y1="53.80" x2="117.50" y2="51.20" stroke="#c8102e" stroke-width="1.0"/>
<line x1="123.50" y1="55.80" x2="123.50" y2="53.20" stroke="#c8102e" stroke-width="1.0"/>
<line x1="126.50" y1="55.80" x2="126.50" y2="53.20" stroke="#c8102e" stroke-width="1.0"/>
<line x1="128.50" y1="55.80" x2="128.50" y2="53.20" stroke="#c8102e" stroke-width="1.0"/>
<line x1="131.50" y1="56.80" x2="131.50" y2="54.20" stroke="#c8102e" stroke-width="1.0"/>
<line x1="137.50" y1="57.80" x2="137.50" y2="55.20" stroke="#c8102e" stroke-width="1.0"/>
<line x1="140.50" y1="58.80" x2="140.50" y2="56.20" stroke="#c8102e" stroke-width="1.0"/>
<line x1="144.50" y1="60.80" x2="144.50" y2="58.20" stroke="#c8102e" stroke-width="1.0"/>
<line x1="148.50" y1="62.80" x2="148.50" y2="60.20" stroke="#c8102e" stroke-width="1.0"/>
<line x1="151.50" y1="63.80" x2="151.50" y2="61.20" stroke="#c8102e" stroke-width="1.0"/>
<line x1="155.50" y1="63.80" x2="155.50" y2="61.20" stroke="#c8102e" stroke-width="1.0"/>
<line x1="157.50" y1="63.80" x2="157.50" y2="61.20" stroke="#c8102e" stroke-width="1.0"/>
<line x1="162.50" y1="63.80" x2="162.50" y2="61.20" stroke="#c8102e" stroke-width="1.0"/>
<line x1="164.50" y1="63.80" x2="164.50" y2="61.20" stroke="#c8102e" stroke-width="1.0"/>
<line x1="169.50" y1="63.80" x2="169.50" y2="61.20" stroke="#c8102e" stroke-width="1.0"/>
<line x1="173.50" y1="64.80" x2="173.50" y2="62.20" stroke="#c8102e" stroke-width="1.0"/>
<line x1="173.50" y1="64.80" x2="173.50" y2="62.20" stroke="#c8102e" stroke-width="1.0"/>
<line x1="177.50" y1="66.80" x2="177.50" y2="64.20" stroke="#c8102e" stroke-width="1.0"/>
<line x1="181.50" y1="66.80" x2="181.50" y2="64.20" stroke="#c8102e" stroke-width="1.0"/>
<line x1="187.50" y1="68.80" x2="187.50" y2="66.20" stroke="#c8102e" stroke-width="1.0"/>
<line x1="189.50" y1="68.80" x2="189.50" y2="66.20" stroke="#c8102e" stroke-width="1.0"/>
<line x1="193.50" y1="70.80" x2="193.50" y2="68.20" stroke="#c8102e" stroke-width="1.0"/>
<line x1="195.50" y1="70.80" x2="195.50" y2="68.20" stroke="#c8102e" stroke-width="1.0"/>
<line x1="199.50" y1="72.80" x2="199.50" y2="70.20" stroke="#c8102e" stroke-width="1.0"/>
<line x1="203.50" y1="75.80" x2="203.50" y2="73.20" stroke="#c8102e" stroke-width="1.0"/>
<line x1="206.50" y1="78.80" x2="206.50" y2="76.20" stroke="#c8102e" stroke-width="1.0"/>
<line x1="210.50" y1="80.80" x2="210.50" y2="78.20" stroke="#c8102e" stroke-width="1.0"/>
<line x1="214.50" y1="80.80" x2="214.50" y2="78.20" stroke="#c8102e" stroke-width="1.0"/>
<line x1="218.50" y1="80.80" x2="218.50" y2="78.20" stroke="#c8102e" stroke-width="1.0"/>
<line x1="221.50" y1="83.80" x2="221.50" y2="81.20" stroke="#c8102e" stroke-width="1.0"/>
<line x1="226.50" y1="83.80" x2="226.50" y2="81.20" stroke="#c8102e" stroke-width="1.0"/>
<line x1="229.50" y1="88.80" x2="229.50" y2="86.20" stroke="#c8102e" stroke-width="1.0"/>
<line x1="233.50" y1="88.80" x2="233.50" y2="86.20" stroke="#c8102e" stroke-width="1.0"/>
<line x1="235.50" y1="88.80" x2="235.50" y2="86.20" stroke="#c8102e" stroke-width="1.0"/>
<path d="M43.5,29.5 H44.5 V32.5 H45.5 V34.5 H47.5 V37.5 H54.5 V40.5 H57.5 V43.5 H58.5 V46.5 H59.5 V48.5 H64.5 V51.5 H70.5 V54.5 H79.5 V57.5 H82.5 V60.5 H88.5 V63.5 H104.5 V67.5 H111.5 V71.5 H117.5 V75.5 H118.5 V79.5 H118.5 V83.5 H140.5 V88.5 H147.5 V93.5 H164.5 V98.5 H171.5 V104.5 H186.5 V109.5 H204.5 V115.5 H235.5 V124.5 H235.5" fill="none" stroke="#1d5893" stroke-width="1.3"/>
<line x1="53.5" y1="37.8" x2="53.5" y2="35.2" stroke="#1d5893" stroke-width="1"/>
<line x1="63.5" y1="48.8" x2="63.5" y2="46.2" stroke="#1d5893" stroke-width="1"/>
<line x1="87.5" y1="60.8" x2="87.5" y2="58.2" stroke="#1d5893" stroke-width="1"/>
<line x1="92.5" y1="63.8" x2="92.5" y2="61.2" stroke="#1d5893" stroke-width="1"/>
<line x1="95.5" y1="63.8" x2="95.5" y2="61.2" stroke="#1d5893" stroke-width="1"/>
<line x1="76.5" y1="54.8" x2="76.5" y2="52.2" stroke="#1d5893" stroke-width="1"/>
<line x1="189.5" y1="109.8" x2="189.5" y2="107.2" stroke="#1d5893" stroke-width="1"/>
<line x1="209.5" y1="115.8" x2="209.5" y2="113.2" stroke="#1d5893" stroke-width="1"/>
<line x1="227.5" y1="115.8" x2="227.5" y2="113.2" stroke="#1d5893" stroke-width="1"/>
<path d="M306.50,40.50 V40.50 H309.50 V40.50 H312.50 V40.50 H315.50 V42.50 H319.50 V45.50 H322.50 V45.50 H325.50 V45.50 H328.50 V45.50 H331.50 V45.50 H335.50 V45.50 H338.50 V46.50 H341.50 V46.50 H344.50 V46.50 H347.50 V48.50 H351.50 V48.50 H354.50 V48.50 H357.50 V48.50 H360.50 V48.50 H363.50 V49.50 H367.50 V51.50 H370.50 V51.50 H373.50 V53.50 H376.50 V53.50 H379.50 V53.50 H383.50 V54.50 H386.50 V54.50 H389.50 V54.50 H392.50 V55.50 H395.50 V55.50 H399.50 V55.50 H402.50 V55.50 H405.50 V57.50 H408.50 V57.50 H411.50 V57.50 H415.50 V57.50 H418.50 V58.50 H421.50 V62.50 H424.50 V62.50 H427.50 V62.50 H431.50 V62.50 H434.50 V62.50 H437.50 V62.50 H440.50 V62.50 H443.50 V62.50 H447.50 V67.50 H450.50 V67.50 H453.50 V67.50 H456.50 V73.50 H459.50 V73.50 H463.50 V73.50 H466.50 V73.50 H469.50 V73.50 H472.50 V73.50 H475.50 V73.50 H479.50 V73.50 H482.50 V73.50 H485.50 V73.50 H487.50 V73.50" fill="none" stroke="#c8102e" stroke-width="1.35"/>
<line x1="307.50" y1="40.80" x2="307.50" y2="38.60" stroke="#c8102e" stroke-width="1.3"/>
<line x1="310.50" y1="40.80" x2="310.50" y2="38.60" stroke="#c8102e" stroke-width="1.3"/>
<line x1="313.50" y1="40.80" x2="313.50" y2="38.60" stroke="#c8102e" stroke-width="1.3"/>
<line x1="316.50" y1="42.80" x2="316.50" y2="40.60" stroke="#c8102e" stroke-width="1.3"/>
<line x1="318.50" y1="42.80" x2="318.50" y2="40.60" stroke="#c8102e" stroke-width="1.3"/>
<line x1="321.50" y1="45.80" x2="321.50" y2="43.60" stroke="#c8102e" stroke-width="1.3"/>
<line x1="321.50" y1="45.80" x2="321.50" y2="43.60" stroke="#c8102e" stroke-width="1.3"/>
<line x1="325.50" y1="45.80" x2="325.50" y2="43.60" stroke="#c8102e" stroke-width="1.3"/>
<line x1="329.50" y1="45.80" x2="329.50" y2="43.60" stroke="#c8102e" stroke-width="1.3"/>
<line x1="331.50" y1="45.80" x2="331.50" y2="43.60" stroke="#c8102e" stroke-width="1.3"/>
<line x1="334.50" y1="45.80" x2="334.50" y2="43.60" stroke="#c8102e" stroke-width="1.3"/>
<line x1="335.50" y1="45.80" x2="335.50" y2="43.60" stroke="#c8102e" stroke-width="1.3"/>
<line x1="338.50" y1="45.80" x2="338.50" y2="43.60" stroke="#c8102e" stroke-width="1.3"/>
<line x1="340.50" y1="46.80" x2="340.50" y2="44.60" stroke="#c8102e" stroke-width="1.3"/>
<line x1="344.50" y1="46.80" x2="344.50" y2="44.60" stroke="#c8102e" stroke-width="1.3"/>
<line x1="346.50" y1="46.80" x2="346.50" y2="44.60" stroke="#c8102e" stroke-width="1.3"/>
<line x1="347.50" y1="46.80" x2="347.50" y2="44.60" stroke="#c8102e" stroke-width="1.3"/>
<line x1="350.50" y1="48.80" x2="350.50" y2="46.60" stroke="#c8102e" stroke-width="1.3"/>
<line x1="353.50" y1="48.80" x2="353.50" y2="46.60" stroke="#c8102e" stroke-width="1.3"/>
<line x1="357.50" y1="48.80" x2="357.50" y2="46.60" stroke="#c8102e" stroke-width="1.3"/>
<line x1="360.50" y1="48.80" x2="360.50" y2="46.60" stroke="#c8102e" stroke-width="1.3"/>
<line x1="361.50" y1="48.80" x2="361.50" y2="46.60" stroke="#c8102e" stroke-width="1.3"/>
<line x1="365.50" y1="49.80" x2="365.50" y2="47.60" stroke="#c8102e" stroke-width="1.3"/>
<line x1="366.50" y1="49.80" x2="366.50" y2="47.60" stroke="#c8102e" stroke-width="1.3"/>
<line x1="370.50" y1="51.80" x2="370.50" y2="49.60" stroke="#c8102e" stroke-width="1.3"/>
<line x1="371.50" y1="51.80" x2="371.50" y2="49.60" stroke="#c8102e" stroke-width="1.3"/>
<line x1="373.50" y1="51.80" x2="373.50" y2="49.60" stroke="#c8102e" stroke-width="1.3"/>
<line x1="378.50" y1="53.80" x2="378.50" y2="51.60" stroke="#c8102e" stroke-width="1.3"/>
<line x1="379.50" y1="53.80" x2="379.50" y2="51.60" stroke="#c8102e" stroke-width="1.3"/>
<line x1="382.50" y1="53.80" x2="382.50" y2="51.60" stroke="#c8102e" stroke-width="1.3"/>
<line x1="386.50" y1="54.80" x2="386.50" y2="52.60" stroke="#c8102e" stroke-width="1.3"/>
<line x1="388.50" y1="54.80" x2="388.50" y2="52.60" stroke="#c8102e" stroke-width="1.3"/>
<line x1="390.50" y1="54.80" x2="390.50" y2="52.60" stroke="#c8102e" stroke-width="1.3"/>
<line x1="394.50" y1="55.80" x2="394.50" y2="53.60" stroke="#c8102e" stroke-width="1.3"/>
<line x1="395.50" y1="55.80" x2="395.50" y2="53.60" stroke="#c8102e" stroke-width="1.3"/>
<line x1="398.50" y1="55.80" x2="398.50" y2="53.60" stroke="#c8102e" stroke-width="1.3"/>
<line x1="400.50" y1="55.80" x2="400.50" y2="53.60" stroke="#c8102e" stroke-width="1.3"/>
<line x1="404.50" y1="55.80" x2="404.50" y2="53.60" stroke="#c8102e" stroke-width="1.3"/>
<line x1="406.50" y1="57.80" x2="406.50" y2="55.60" stroke="#c8102e" stroke-width="1.3"/>
<line x1="409.50" y1="57.80" x2="409.50" y2="55.60" stroke="#c8102e" stroke-width="1.3"/>
<line x1="412.50" y1="57.80" x2="412.50" y2="55.60" stroke="#c8102e" stroke-width="1.3"/>
<line x1="413.50" y1="57.80" x2="413.50" y2="55.60" stroke="#c8102e" stroke-width="1.3"/>
<line x1="416.50" y1="57.80" x2="416.50" y2="55.60" stroke="#c8102e" stroke-width="1.3"/>
<line x1="418.50" y1="57.80" x2="418.50" y2="55.60" stroke="#c8102e" stroke-width="1.3"/>
<line x1="420.50" y1="58.80" x2="420.50" y2="56.60" stroke="#c8102e" stroke-width="1.3"/>
<line x1="423.50" y1="62.80" x2="423.50" y2="60.60" stroke="#c8102e" stroke-width="1.3"/>
<line x1="426.50" y1="62.80" x2="426.50" y2="60.60" stroke="#c8102e" stroke-width="1.3"/>
<line x1="429.50" y1="62.80" x2="429.50" y2="60.60" stroke="#c8102e" stroke-width="1.3"/>
<line x1="430.50" y1="62.80" x2="430.50" y2="60.60" stroke="#c8102e" stroke-width="1.3"/>
<line x1="435.50" y1="62.80" x2="435.50" y2="60.60" stroke="#c8102e" stroke-width="1.3"/>
<line x1="436.50" y1="62.80" x2="436.50" y2="60.60" stroke="#c8102e" stroke-width="1.3"/>
<line x1="439.50" y1="62.80" x2="439.50" y2="60.60" stroke="#c8102e" stroke-width="1.3"/>
<line x1="443.50" y1="62.80" x2="443.50" y2="60.60" stroke="#c8102e" stroke-width="1.3"/>
<line x1="444.50" y1="62.80" x2="444.50" y2="60.60" stroke="#c8102e" stroke-width="1.3"/>
<line x1="447.50" y1="62.80" x2="447.50" y2="60.60" stroke="#c8102e" stroke-width="1.3"/>
<line x1="450.50" y1="67.80" x2="450.50" y2="65.60" stroke="#c8102e" stroke-width="1.3"/>
<line x1="453.50" y1="67.80" x2="453.50" y2="65.60" stroke="#c8102e" stroke-width="1.3"/>
<line x1="454.50" y1="67.80" x2="454.50" y2="65.60" stroke="#c8102e" stroke-width="1.3"/>
<line x1="459.50" y1="73.80" x2="459.50" y2="71.60" stroke="#c8102e" stroke-width="1.3"/>
<line x1="459.50" y1="73.80" x2="459.50" y2="71.60" stroke="#c8102e" stroke-width="1.3"/>
<line x1="463.50" y1="73.80" x2="463.50" y2="71.60" stroke="#c8102e" stroke-width="1.3"/>
<line x1="466.50" y1="73.80" x2="466.50" y2="71.60" stroke="#c8102e" stroke-width="1.3"/>
<line x1="467.50" y1="73.80" x2="467.50" y2="71.60" stroke="#c8102e" stroke-width="1.3"/>
<line x1="471.50" y1="73.80" x2="471.50" y2="71.60" stroke="#c8102e" stroke-width="1.3"/>
<line x1="473.50" y1="73.80" x2="473.50" y2="71.60" stroke="#c8102e" stroke-width="1.3"/>
<line x1="476.50" y1="73.80" x2="476.50" y2="71.60" stroke="#c8102e" stroke-width="1.3"/>
<line x1="477.50" y1="73.80" x2="477.50" y2="71.60" stroke="#c8102e" stroke-width="1.3"/>
<line x1="480.50" y1="73.80" x2="480.50" y2="71.60" stroke="#c8102e" stroke-width="1.3"/>
<line x1="483.50" y1="73.80" x2="483.50" y2="71.60" stroke="#c8102e" stroke-width="1.3"/>
<line x1="487.50" y1="73.80" x2="487.50" y2="71.60" stroke="#c8102e" stroke-width="1.3"/>
<path d="M306.5,40.5 H307.5 V47.5 H309.5 V54.5 H314.5 V57.5 H318.5 V59.5 H320.5 V65.5 H329.5 V68.5 H343.5 V72.5 H351.5 V76.5 H354.5 V79.5 H357.5 V82.5 H472.5" fill="none" stroke="#1d5893" stroke-width="1.3"/>
<line x1="324.5" y1="65.8" x2="324.5" y2="63.2" stroke="#1d5893" stroke-width="1"/>
<line x1="326.5" y1="65.8" x2="326.5" y2="63.2" stroke="#1d5893" stroke-width="1"/>
<line x1="335.5" y1="68.8" x2="335.5" y2="66.2" stroke="#1d5893" stroke-width="1"/>
<line x1="336.5" y1="68.8" x2="336.5" y2="66.2" stroke="#1d5893" stroke-width="1"/>
<line x1="342.5" y1="68.8" x2="342.5" y2="66.2" stroke="#1d5893" stroke-width="1"/>
<line x1="352.5" y1="72.8" x2="352.5" y2="70.2" stroke="#1d5893" stroke-width="1"/>
<line x1="361.5" y1="82.8" x2="361.5" y2="80.2" stroke="#1d5893" stroke-width="1"/>
<line x1="368.5" y1="82.8" x2="368.5" y2="80.2" stroke="#1d5893" stroke-width="1"/>
<line x1="381.5" y1="82.8" x2="381.5" y2="80.2" stroke="#1d5893" stroke-width="1"/>
<line x1="385.5" y1="82.8" x2="385.5" y2="80.2" stroke="#1d5893" stroke-width="1"/>
<line x1="393.5" y1="82.8" x2="393.5" y2="80.2" stroke="#1d5893" stroke-width="1"/>
<line x1="407.5" y1="82.8" x2="407.5" y2="80.2" stroke="#1d5893" stroke-width="1"/>
<line x1="423.5" y1="82.8" x2="423.5" y2="80.2" stroke="#1d5893" stroke-width="1"/>
<line x1="439.5" y1="82.8" x2="439.5" y2="80.2" stroke="#1d5893" stroke-width="1"/>
<line x1="445.5" y1="82.8" x2="445.5" y2="80.2" stroke="#1d5893" stroke-width="1"/>
<line x1="452.5" y1="82.8" x2="452.5" y2="80.2" stroke="#1d5893" stroke-width="1"/>
<line x1="472.5" y1="82.8" x2="472.5" y2="80.2" stroke="#1d5893" stroke-width="1"/>
<path d="M42.50,220.50 V220.50 H44.50 V220.50 H46.50 V220.50 H48.50 V222.50 H50.50 V224.50 H53.50 V225.50 H55.50 V227.50 H57.50 V229.50 H59.50 V232.50 H61.50 V236.50 H64.50 V245.50 H66.50 V247.50 H68.50 V248.50 H70.50 V249.50 H72.50 V249.50 H75.50 V249.50 H77.50 V250.50 H79.50 V251.50 H81.50 V252.50 H83.50 V253.50 H86.50 V253.50 H88.50 V253.50 H90.50 V253.50 H92.50 V253.50 H94.50 V253.50 H97.50 V253.50 H99.50 V253.50 H101.50 V254.50 H103.50 V255.50 H105.50 V255.50 H108.50 V256.50 H110.50 V257.50 H112.50 V258.50 H114.50 V258.50 H116.50 V258.50 H119.50 V259.50 H121.50 V259.50 H123.50 V259.50 H125.50 V260.50 H127.50 V260.50 H130.50 V260.50 H132.50 V261.50 H134.50 V262.50 H136.50 V262.50 H138.50 V262.50 H141.50 V262.50 H143.50 V262.50 H145.50 V262.50 H147.50 V262.50 H149.50 V262.50 H152.50 V262.50 H154.50 V262.50 H156.50 V262.50 H158.50 V262.50 H160.50 V262.50 H162.50 V262.50 H165.50 V262.50 H167.50 V262.50 H169.50 V262.50 H171.50 V262.50 H173.50 V262.50 H176.50 V262.50 H178.50 V262.50 H180.50 V262.50 H182.50 V262.50 H184.50 V262.50 H187.50 V262.50 H189.50 V262.50 H191.50 V264.50 H193.50 V264.50 H195.50 V264.50 H198.50 V264.50 H200.50 V264.50 H202.50 V266.50 H204.50 V266.50 H206.50 V266.50 H209.50 V266.50 H211.50 V266.50 H213.50 V266.50 H215.50 V266.50 H217.50 V266.50 H220.50 V266.50 H222.50 V266.50 H224.50 V266.50 H226.50 V266.50 H228.50 V266.50 H231.50 V271.50 H233.50 V271.50 H235.50 V271.50 H237.50 V271.50 H239.50 V271.50 H240.50 V271.50" fill="none" stroke="#c8102e" stroke-width="1.4"/>
<line x1="44.50" y1="220.80" x2="44.50" y2="218.30" stroke="#c8102e" stroke-width="1.0"/>
<line x1="48.50" y1="221.80" x2="48.50" y2="219.30" stroke="#c8102e" stroke-width="1.0"/>
<line x1="52.50" y1="224.80" x2="52.50" y2="222.30" stroke="#c8102e" stroke-width="1.0"/>
<line x1="61.50" y1="233.80" x2="61.50" y2="231.30" stroke="#c8102e" stroke-width="1.0"/>
<line x1="61.50" y1="233.80" x2="61.50" y2="231.30" stroke="#c8102e" stroke-width="1.0"/>
<line x1="69.50" y1="248.80" x2="69.50" y2="246.30" stroke="#c8102e" stroke-width="1.0"/>
<line x1="76.50" y1="249.80" x2="76.50" y2="247.30" stroke="#c8102e" stroke-width="1.0"/>
<line x1="77.50" y1="250.80" x2="77.50" y2="248.30" stroke="#c8102e" stroke-width="1.0"/>
<line x1="84.50" y1="253.80" x2="84.50" y2="251.30" stroke="#c8102e" stroke-width="1.0"/>
<line x1="89.50" y1="253.80" x2="89.50" y2="251.30" stroke="#c8102e" stroke-width="1.0"/>
<line x1="91.50" y1="253.80" x2="91.50" y2="251.30" stroke="#c8102e" stroke-width="1.0"/>
<line x1="98.50" y1="253.80" x2="98.50" y2="251.30" stroke="#c8102e" stroke-width="1.0"/>
<line x1="104.50" y1="254.80" x2="104.50" y2="252.30" stroke="#c8102e" stroke-width="1.0"/>
<line x1="108.50" y1="256.80" x2="108.50" y2="254.30" stroke="#c8102e" stroke-width="1.0"/>
<line x1="114.50" y1="258.80" x2="114.50" y2="256.30" stroke="#c8102e" stroke-width="1.0"/>
<line x1="117.50" y1="258.80" x2="117.50" y2="256.30" stroke="#c8102e" stroke-width="1.0"/>
<line x1="122.50" y1="259.80" x2="122.50" y2="257.30" stroke="#c8102e" stroke-width="1.0"/>
<line x1="126.50" y1="259.80" x2="126.50" y2="257.30" stroke="#c8102e" stroke-width="1.0"/>
<line x1="133.50" y1="261.80" x2="133.50" y2="259.30" stroke="#c8102e" stroke-width="1.0"/>
<line x1="140.50" y1="262.80" x2="140.50" y2="260.30" stroke="#c8102e" stroke-width="1.0"/>
<line x1="143.50" y1="262.80" x2="143.50" y2="260.30" stroke="#c8102e" stroke-width="1.0"/>
<line x1="149.50" y1="262.80" x2="149.50" y2="260.30" stroke="#c8102e" stroke-width="1.0"/>
<line x1="152.50" y1="262.80" x2="152.50" y2="260.30" stroke="#c8102e" stroke-width="1.0"/>
<line x1="159.50" y1="262.80" x2="159.50" y2="260.30" stroke="#c8102e" stroke-width="1.0"/>
<line x1="161.50" y1="262.80" x2="161.50" y2="260.30" stroke="#c8102e" stroke-width="1.0"/>
<line x1="167.50" y1="262.80" x2="167.50" y2="260.30" stroke="#c8102e" stroke-width="1.0"/>
<line x1="174.50" y1="262.80" x2="174.50" y2="260.30" stroke="#c8102e" stroke-width="1.0"/>
<line x1="179.50" y1="262.80" x2="179.50" y2="260.30" stroke="#c8102e" stroke-width="1.0"/>
<line x1="182.50" y1="262.80" x2="182.50" y2="260.30" stroke="#c8102e" stroke-width="1.0"/>
<line x1="185.50" y1="262.80" x2="185.50" y2="260.30" stroke="#c8102e" stroke-width="1.0"/>
<line x1="191.50" y1="262.80" x2="191.50" y2="260.30" stroke="#c8102e" stroke-width="1.0"/>
<line x1="196.50" y1="264.80" x2="196.50" y2="262.30" stroke="#c8102e" stroke-width="1.0"/>
<line x1="201.50" y1="264.80" x2="201.50" y2="262.30" stroke="#c8102e" stroke-width="1.0"/>
<line x1="209.50" y1="266.80" x2="209.50" y2="264.30" stroke="#c8102e" stroke-width="1.0"/>
<line x1="211.50" y1="266.80" x2="211.50" y2="264.30" stroke="#c8102e" stroke-width="1.0"/>
<line x1="219.50" y1="266.80" x2="219.50" y2="264.30" stroke="#c8102e" stroke-width="1.0"/>
<line x1="224.50" y1="266.80" x2="224.50" y2="264.30" stroke="#c8102e" stroke-width="1.0"/>
<line x1="225.50" y1="266.80" x2="225.50" y2="264.30" stroke="#c8102e" stroke-width="1.0"/>
<line x1="231.50" y1="268.80" x2="231.50" y2="266.30" stroke="#c8102e" stroke-width="1.0"/>
<line x1="237.50" y1="271.80" x2="237.50" y2="269.30" stroke="#c8102e" stroke-width="1.0"/>
<path d="M42.50,220.50 V220.50 H44.50 V220.50 H46.50 V220.50 H48.50 V223.50 H50.50 V225.50 H53.50 V227.50 H55.50 V231.50 H57.50 V232.50 H59.50 V233.50 H61.50 V235.50 H64.50 V239.50 H66.50 V243.50 H68.50 V243.50 H70.50 V243.50 H72.50 V245.50 H75.50 V245.50 H77.50 V247.50 H79.50 V248.50 H81.50 V249.50 H83.50 V251.50 H86.50 V253.50 H88.50 V253.50 H90.50 V253.50 H92.50 V253.50 H94.50 V253.50 H97.50 V253.50 H99.50 V253.50 H101.50 V254.50 H103.50 V255.50 H105.50 V256.50 H108.50 V257.50 H110.50 V257.50 H112.50 V257.50 H114.50 V257.50 H116.50 V257.50 H119.50 V258.50 H121.50 V258.50 H123.50 V259.50 H125.50 V260.50 H127.50 V262.50 H130.50 V262.50 H132.50 V262.50 H134.50 V262.50 H136.50 V264.50 H138.50 V265.50 H141.50 V265.50 H143.50 V265.50 H145.50 V265.50 H147.50 V265.50 H149.50 V265.50 H152.50 V265.50 H154.50 V265.50 H156.50 V265.50 H158.50 V265.50 H160.50 V265.50 H162.50 V265.50 H165.50 V265.50 H167.50 V265.50 H169.50 V265.50 H171.50 V265.50 H173.50 V265.50 H176.50 V265.50 H178.50 V265.50 H180.50 V265.50 H182.50 V265.50 H184.50 V265.50 H187.50 V269.50 H189.50 V269.50 H191.50 V269.50 H193.50 V269.50 H195.50 V269.50 H198.50 V273.50 H200.50 V273.50 H202.50 V273.50 H204.50 V273.50 H206.50 V273.50 H209.50 V273.50 H211.50 V273.50 H213.50 V273.50 H215.50 V273.50 H217.50 V273.50 H220.50 V273.50 H222.50 V273.50 H224.50 V273.50 H226.50 V278.50 H228.50 V278.50 H231.50 V278.50 H233.50 V278.50 H235.50 V278.50 H237.50 V278.50 H239.50 V278.50 H240.50 V278.50" fill="none" stroke="#1d5893" stroke-width="1.2"/>
<line x1="141.5" y1="265.8" x2="141.5" y2="263.2" stroke="#1d5893" stroke-width="1"/>
<line x1="144.5" y1="265.8" x2="144.5" y2="263.2" stroke="#1d5893" stroke-width="1"/>
<line x1="147.5" y1="265.8" x2="147.5" y2="263.2" stroke="#1d5893" stroke-width="1"/>
<line x1="154.5" y1="265.8" x2="154.5" y2="263.2" stroke="#1d5893" stroke-width="1"/>
<line x1="160.5" y1="265.8" x2="160.5" y2="263.2" stroke="#1d5893" stroke-width="1"/>
<line x1="172.5" y1="265.8" x2="172.5" y2="263.2" stroke="#1d5893" stroke-width="1"/>
<line x1="193.5" y1="269.8" x2="193.5" y2="267.2" stroke="#1d5893" stroke-width="1"/>
<line x1="198.5" y1="269.8" x2="198.5" y2="267.2" stroke="#1d5893" stroke-width="1"/>
<line x1="203.5" y1="273.8" x2="203.5" y2="271.2" stroke="#1d5893" stroke-width="1"/>
<line x1="210.5" y1="273.8" x2="210.5" y2="271.2" stroke="#1d5893" stroke-width="1"/>
<line x1="213.5" y1="273.8" x2="213.5" y2="271.2" stroke="#1d5893" stroke-width="1"/>
<line x1="215.5" y1="273.8" x2="215.5" y2="271.2" stroke="#1d5893" stroke-width="1"/>
<line x1="223.5" y1="273.8" x2="223.5" y2="271.2" stroke="#1d5893" stroke-width="1"/>
<line x1="229.5" y1="278.8" x2="229.5" y2="276.2" stroke="#1d5893" stroke-width="1"/>
<line x1="231.5" y1="278.8" x2="231.5" y2="276.2" stroke="#1d5893" stroke-width="1"/>
<line x1="239.5" y1="278.8" x2="239.5" y2="276.2" stroke="#1d5893" stroke-width="1"/>
<line x1="60.5" y1="234.8" x2="60.5" y2="232.2" stroke="#1d5893" stroke-width="1"/>
<line x1="64.5" y1="235.8" x2="64.5" y2="233.2" stroke="#1d5893" stroke-width="1"/>
<line x1="71.5" y1="243.8" x2="71.5" y2="241.2" stroke="#1d5893" stroke-width="1"/>
<line x1="90.5" y1="253.8" x2="90.5" y2="251.2" stroke="#1d5893" stroke-width="1"/>
<line x1="93.5" y1="253.8" x2="93.5" y2="251.2" stroke="#1d5893" stroke-width="1"/>
<line x1="100.5" y1="253.8" x2="100.5" y2="251.2" stroke="#1d5893" stroke-width="1"/>
<line x1="120.5" y1="258.8" x2="120.5" y2="256.2" stroke="#1d5893" stroke-width="1"/>
<line x1="124.5" y1="258.8" x2="124.5" y2="256.2" stroke="#1d5893" stroke-width="1"/>
<line x1="128.5" y1="258.8" x2="128.5" y2="256.2" stroke="#1d5893" stroke-width="1"/>
<path d="M306.50,222.50 V222.50 H309.50 V222.50 H312.50 V222.50 H315.50 V224.50 H318.50 V224.50 H321.50 V224.50 H324.50 V224.50 H327.50 V224.50 H330.50 V225.50 H333.50 V225.50 H336.50 V225.50 H339.50 V225.50 H342.50 V227.50 H345.50 V227.50 H348.50 V227.50 H351.50 V229.50 H354.50 V229.50 H357.50 V230.50 H360.50 V230.50 H363.50 V231.50 H366.50 V232.50 H369.50 V232.50 H372.50 V232.50 H375.50 V232.50 H378.50 V233.50 H381.50 V234.50 H384.50 V235.50 H387.50 V235.50 H390.50 V235.50 H393.50 V235.50 H396.50 V235.50 H399.50 V235.50 H402.50 V235.50 H405.50 V236.50 H408.50 V238.50 H411.50 V238.50 H414.50 V238.50 H417.50 V238.50 H420.50 V243.50 H423.50 V243.50 H426.50 V243.50 H429.50 V243.50 H432.50 V243.50 H435.50 V243.50 H438.50 V243.50 H441.50 V243.50 H444.50 V243.50 H447.50 V243.50 H450.50 V243.50 H453.50 V243.50 H456.50 V243.50 H459.50 V253.50 H462.50 V253.50 H465.50 V253.50 H468.50 V253.50 H471.50 V253.50 H474.50 V253.50 H477.50 V253.50 H480.50 V253.50 H483.50 V253.50 H486.50 V253.50 H489.50 V253.50 H490.50 V253.50" fill="none" stroke="#c8102e" stroke-width="1.35"/>
<line x1="307.50" y1="222.80" x2="307.50" y2="220.60" stroke="#c8102e" stroke-width="1.3"/>
<line x1="311.50" y1="222.80" x2="311.50" y2="220.60" stroke="#c8102e" stroke-width="1.3"/>
<line x1="314.50" y1="222.80" x2="314.50" y2="220.60" stroke="#c8102e" stroke-width="1.3"/>
<line x1="318.50" y1="224.80" x2="318.50" y2="222.60" stroke="#c8102e" stroke-width="1.3"/>
<line x1="319.50" y1="224.80" x2="319.50" y2="222.60" stroke="#c8102e" stroke-width="1.3"/>
<line x1="322.50" y1="224.80" x2="322.50" y2="222.60" stroke="#c8102e" stroke-width="1.3"/>
<line x1="325.50" y1="224.80" x2="325.50" y2="222.60" stroke="#c8102e" stroke-width="1.3"/>
<line x1="328.50" y1="224.80" x2="328.50" y2="222.60" stroke="#c8102e" stroke-width="1.3"/>
<line x1="333.50" y1="225.80" x2="333.50" y2="223.60" stroke="#c8102e" stroke-width="1.3"/>
<line x1="334.50" y1="225.80" x2="334.50" y2="223.60" stroke="#c8102e" stroke-width="1.3"/>
<line x1="338.50" y1="225.80" x2="338.50" y2="223.60" stroke="#c8102e" stroke-width="1.3"/>
<line x1="340.50" y1="225.80" x2="340.50" y2="223.60" stroke="#c8102e" stroke-width="1.3"/>
<line x1="344.50" y1="227.80" x2="344.50" y2="225.60" stroke="#c8102e" stroke-width="1.3"/>
<line x1="347.50" y1="227.80" x2="347.50" y2="225.60" stroke="#c8102e" stroke-width="1.3"/>
<line x1="351.50" y1="229.80" x2="351.50" y2="227.60" stroke="#c8102e" stroke-width="1.3"/>
<line x1="354.50" y1="229.80" x2="354.50" y2="227.60" stroke="#c8102e" stroke-width="1.3"/>
<line x1="355.50" y1="229.80" x2="355.50" y2="227.60" stroke="#c8102e" stroke-width="1.3"/>
<line x1="359.50" y1="230.80" x2="359.50" y2="228.60" stroke="#c8102e" stroke-width="1.3"/>
<line x1="361.50" y1="230.80" x2="361.50" y2="228.60" stroke="#c8102e" stroke-width="1.3"/>
<line x1="367.50" y1="232.80" x2="367.50" y2="230.60" stroke="#c8102e" stroke-width="1.3"/>
<line x1="370.50" y1="232.80" x2="370.50" y2="230.60" stroke="#c8102e" stroke-width="1.3"/>
<line x1="373.50" y1="232.80" x2="373.50" y2="230.60" stroke="#c8102e" stroke-width="1.3"/>
<line x1="376.50" y1="232.80" x2="376.50" y2="230.60" stroke="#c8102e" stroke-width="1.3"/>
<line x1="379.50" y1="233.80" x2="379.50" y2="231.60" stroke="#c8102e" stroke-width="1.3"/>
<line x1="382.50" y1="234.80" x2="382.50" y2="232.60" stroke="#c8102e" stroke-width="1.3"/>
<line x1="385.50" y1="235.80" x2="385.50" y2="233.60" stroke="#c8102e" stroke-width="1.3"/>
<line x1="386.50" y1="235.80" x2="386.50" y2="233.60" stroke="#c8102e" stroke-width="1.3"/>
<line x1="391.50" y1="235.80" x2="391.50" y2="233.60" stroke="#c8102e" stroke-width="1.3"/>
<line x1="393.50" y1="235.80" x2="393.50" y2="233.60" stroke="#c8102e" stroke-width="1.3"/>
<line x1="397.50" y1="235.80" x2="397.50" y2="233.60" stroke="#c8102e" stroke-width="1.3"/>
<line x1="399.50" y1="235.80" x2="399.50" y2="233.60" stroke="#c8102e" stroke-width="1.3"/>
<line x1="402.50" y1="235.80" x2="402.50" y2="233.60" stroke="#c8102e" stroke-width="1.3"/>
<line x1="405.50" y1="235.80" x2="405.50" y2="233.60" stroke="#c8102e" stroke-width="1.3"/>
<line x1="408.50" y1="238.80" x2="408.50" y2="236.60" stroke="#c8102e" stroke-width="1.3"/>
<line x1="411.50" y1="238.80" x2="411.50" y2="236.60" stroke="#c8102e" stroke-width="1.3"/>
<line x1="413.50" y1="238.80" x2="413.50" y2="236.60" stroke="#c8102e" stroke-width="1.3"/>
<line x1="419.50" y1="238.80" x2="419.50" y2="236.60" stroke="#c8102e" stroke-width="1.3"/>
<line x1="422.50" y1="243.80" x2="422.50" y2="241.60" stroke="#c8102e" stroke-width="1.3"/>
<line x1="425.50" y1="243.80" x2="425.50" y2="241.60" stroke="#c8102e" stroke-width="1.3"/>
<line x1="427.50" y1="243.80" x2="427.50" y2="241.60" stroke="#c8102e" stroke-width="1.3"/>
<line x1="430.50" y1="243.80" x2="430.50" y2="241.60" stroke="#c8102e" stroke-width="1.3"/>
<line x1="434.50" y1="243.80" x2="434.50" y2="241.60" stroke="#c8102e" stroke-width="1.3"/>
<line x1="435.50" y1="243.80" x2="435.50" y2="241.60" stroke="#c8102e" stroke-width="1.3"/>
<line x1="440.50" y1="243.80" x2="440.50" y2="241.60" stroke="#c8102e" stroke-width="1.3"/>
<line x1="442.50" y1="243.80" x2="442.50" y2="241.60" stroke="#c8102e" stroke-width="1.3"/>
<line x1="444.50" y1="243.80" x2="444.50" y2="241.60" stroke="#c8102e" stroke-width="1.3"/>
<line x1="447.50" y1="243.80" x2="447.50" y2="241.60" stroke="#c8102e" stroke-width="1.3"/>
<line x1="451.50" y1="243.80" x2="451.50" y2="241.60" stroke="#c8102e" stroke-width="1.3"/>
<line x1="454.50" y1="243.80" x2="454.50" y2="241.60" stroke="#c8102e" stroke-width="1.3"/>
<line x1="457.50" y1="243.80" x2="457.50" y2="241.60" stroke="#c8102e" stroke-width="1.3"/>
<line x1="461.50" y1="253.80" x2="461.50" y2="251.60" stroke="#c8102e" stroke-width="1.3"/>
<line x1="463.50" y1="253.80" x2="463.50" y2="251.60" stroke="#c8102e" stroke-width="1.3"/>
<line x1="465.50" y1="253.80" x2="465.50" y2="251.60" stroke="#c8102e" stroke-width="1.3"/>
<line x1="470.50" y1="253.80" x2="470.50" y2="251.60" stroke="#c8102e" stroke-width="1.3"/>
<line x1="472.50" y1="253.80" x2="472.50" y2="251.60" stroke="#c8102e" stroke-width="1.3"/>
<line x1="475.50" y1="253.80" x2="475.50" y2="251.60" stroke="#c8102e" stroke-width="1.3"/>
<line x1="478.50" y1="253.80" x2="478.50" y2="251.60" stroke="#c8102e" stroke-width="1.3"/>
<line x1="481.50" y1="253.80" x2="481.50" y2="251.60" stroke="#c8102e" stroke-width="1.3"/>
<line x1="484.50" y1="253.80" x2="484.50" y2="251.60" stroke="#c8102e" stroke-width="1.3"/>
<line x1="488.50" y1="253.80" x2="488.50" y2="251.60" stroke="#c8102e" stroke-width="1.3"/>
<path d="M306.5,222.5 H315.5 V226.5 H321.5 V230.5 H344.5 V234.5 H374.5 V241.5 H393.5 V248.5 H488.5" fill="none" stroke="#1d5893" stroke-width="1.3"/>
<line x1="315.5" y1="222.8" x2="315.5" y2="220.2" stroke="#1d5893" stroke-width="1"/>
<line x1="322.5" y1="230.8" x2="322.5" y2="228.2" stroke="#1d5893" stroke-width="1"/>
<line x1="328.5" y1="230.8" x2="328.5" y2="228.2" stroke="#1d5893" stroke-width="1"/>
<line x1="335.5" y1="230.8" x2="335.5" y2="228.2" stroke="#1d5893" stroke-width="1"/>
<line x1="337.5" y1="230.8" x2="337.5" y2="228.2" stroke="#1d5893" stroke-width="1"/>
<line x1="346.5" y1="234.8" x2="346.5" y2="232.2" stroke="#1d5893" stroke-width="1"/>
<line x1="353.5" y1="234.8" x2="353.5" y2="232.2" stroke="#1d5893" stroke-width="1"/>
<line x1="401.5" y1="248.8" x2="401.5" y2="246.2" stroke="#1d5893" stroke-width="1"/>
<line x1="404.5" y1="248.8" x2="404.5" y2="246.2" stroke="#1d5893" stroke-width="1"/>
<line x1="407.5" y1="248.8" x2="407.5" y2="246.2" stroke="#1d5893" stroke-width="1"/>
<line x1="409.5" y1="248.8" x2="409.5" y2="246.2" stroke="#1d5893" stroke-width="1"/>
<line x1="412.5" y1="248.8" x2="412.5" y2="246.2" stroke="#1d5893" stroke-width="1"/>
<line x1="420.5" y1="248.8" x2="420.5" y2="246.2" stroke="#1d5893" stroke-width="1"/>
<line x1="431.5" y1="248.8" x2="431.5" y2="246.2" stroke="#1d5893" stroke-width="1"/>
<line x1="433.5" y1="248.8" x2="433.5" y2="246.2" stroke="#1d5893" stroke-width="1"/>
<line x1="454.5" y1="248.8" x2="454.5" y2="246.2" stroke="#1d5893" stroke-width="1"/>
<line x1="459.5" y1="248.8" x2="459.5" y2="246.2" stroke="#1d5893" stroke-width="1"/>
<line x1="477.5" y1="248.8" x2="477.5" y2="246.2" stroke="#1d5893" stroke-width="1"/>
<line x1="484.5" y1="248.8" x2="484.5" y2="246.2" stroke="#1d5893" stroke-width="1"/>
<line x1="487.5" y1="248.8" x2="487.5" y2="246.2" stroke="#1d5893" stroke-width="1"/>
<path d="M45.50,423.50 V422.50 H47.50 V424.50 H49.50 V424.50 H51.50 V425.50 H53.50 V427.50 H56.50 V429.50 H58.50 V434.50 H60.50 V442.50 H62.50 V443.50 H64.50 V443.50 H67.50 V443.50 H69.50 V444.50 H71.50 V444.50 H73.50 V446.50 H75.50 V448.50 H78.50 V449.50 H80.50 V449.50 H82.50 V449.50 H84.50 V449.50 H86.50 V449.50 H89.50 V449.50 H91.50 V449.50 H93.50 V450.50 H95.50 V451.50 H97.50 V451.50 H100.50 V452.50 H102.50 V452.50 H104.50 V453.50 H106.50 V454.50 H108.50 V454.50 H111.50 V455.50 H113.50 V455.50 H115.50 V456.50 H117.50 V457.50 H119.50 V457.50 H122.50 V457.50 H124.50 V457.50 H126.50 V457.50 H128.50 V457.50 H130.50 V457.50 H133.50 V457.50 H135.50 V457.50 H137.50 V457.50 H139.50 V457.50 H141.50 V457.50 H144.50 V457.50 H146.50 V457.50 H148.50 V457.50 H150.50 V457.50 H152.50 V457.50 H154.50 V457.50 H157.50 V457.50 H159.50 V457.50 H161.50 V457.50 H163.50 V458.50 H165.50 V459.50 H168.50 V460.50 H170.50 V460.50 H172.50 V460.50 H174.50 V461.50 H176.50 V463.50 H179.50 V464.50 H181.50 V464.50 H183.50 V464.50 H185.50 V464.50 H187.50 V464.50 H190.50 V464.50 H192.50 V464.50 H194.50 V464.50 H196.50 V464.50 H198.50 V464.50 H201.50 V464.50 H203.50 V467.50 H205.50 V467.50 H207.50 V467.50 H209.50 V467.50 H211.50 V467.50" fill="none" stroke="#c8102e" stroke-width="1.7"/>
<line x1="46.50" y1="422.80" x2="46.50" y2="420.30" stroke="#c8102e" stroke-width="1.2"/>
<line x1="49.50" y1="424.80" x2="49.50" y2="422.30" stroke="#c8102e" stroke-width="1.2"/>
<line x1="53.50" y1="426.80" x2="53.50" y2="424.30" stroke="#c8102e" stroke-width="1.2"/>
<line x1="54.50" y1="427.80" x2="54.50" y2="425.30" stroke="#c8102e" stroke-width="1.2"/>
<line x1="58.50" y1="432.80" x2="58.50" y2="430.30" stroke="#c8102e" stroke-width="1.2"/>
<line x1="60.50" y1="438.80" x2="60.50" y2="436.30" stroke="#c8102e" stroke-width="1.2"/>
<line x1="63.50" y1="443.80" x2="63.50" y2="441.30" stroke="#c8102e" stroke-width="1.2"/>
<line x1="64.50" y1="443.80" x2="64.50" y2="441.30" stroke="#c8102e" stroke-width="1.2"/>
<line x1="67.50" y1="443.80" x2="67.50" y2="441.30" stroke="#c8102e" stroke-width="1.2"/>
<line x1="70.50" y1="444.80" x2="70.50" y2="442.30" stroke="#c8102e" stroke-width="1.2"/>
<line x1="74.50" y1="446.80" x2="74.50" y2="444.30" stroke="#c8102e" stroke-width="1.2"/>
<line x1="76.50" y1="447.80" x2="76.50" y2="445.30" stroke="#c8102e" stroke-width="1.2"/>
<line x1="79.50" y1="449.80" x2="79.50" y2="447.30" stroke="#c8102e" stroke-width="1.2"/>
<line x1="81.50" y1="449.80" x2="81.50" y2="447.30" stroke="#c8102e" stroke-width="1.2"/>
<line x1="86.50" y1="449.80" x2="86.50" y2="447.30" stroke="#c8102e" stroke-width="1.2"/>
<line x1="89.50" y1="449.80" x2="89.50" y2="447.30" stroke="#c8102e" stroke-width="1.2"/>
<line x1="90.50" y1="449.80" x2="90.50" y2="447.30" stroke="#c8102e" stroke-width="1.2"/>
<line x1="94.50" y1="450.80" x2="94.50" y2="448.30" stroke="#c8102e" stroke-width="1.2"/>
<line x1="94.50" y1="450.80" x2="94.50" y2="448.30" stroke="#c8102e" stroke-width="1.2"/>
<line x1="99.50" y1="451.80" x2="99.50" y2="449.30" stroke="#c8102e" stroke-width="1.2"/>
<line x1="102.50" y1="452.80" x2="102.50" y2="450.30" stroke="#c8102e" stroke-width="1.2"/>
<line x1="103.50" y1="453.80" x2="103.50" y2="451.30" stroke="#c8102e" stroke-width="1.2"/>
<line x1="107.50" y1="454.80" x2="107.50" y2="452.30" stroke="#c8102e" stroke-width="1.2"/>
<line x1="110.50" y1="454.80" x2="110.50" y2="452.30" stroke="#c8102e" stroke-width="1.2"/>
<line x1="114.50" y1="455.80" x2="114.50" y2="453.30" stroke="#c8102e" stroke-width="1.2"/>
<line x1="114.50" y1="455.80" x2="114.50" y2="453.30" stroke="#c8102e" stroke-width="1.2"/>
<line x1="118.50" y1="457.80" x2="118.50" y2="455.30" stroke="#c8102e" stroke-width="1.2"/>
<line x1="122.50" y1="457.80" x2="122.50" y2="455.30" stroke="#c8102e" stroke-width="1.2"/>
<line x1="124.50" y1="457.80" x2="124.50" y2="455.30" stroke="#c8102e" stroke-width="1.2"/>
<line x1="126.50" y1="457.80" x2="126.50" y2="455.30" stroke="#c8102e" stroke-width="1.2"/>
<line x1="128.50" y1="457.80" x2="128.50" y2="455.30" stroke="#c8102e" stroke-width="1.2"/>
<line x1="133.50" y1="457.80" x2="133.50" y2="455.30" stroke="#c8102e" stroke-width="1.2"/>
<line x1="134.50" y1="457.80" x2="134.50" y2="455.30" stroke="#c8102e" stroke-width="1.2"/>
<line x1="139.50" y1="457.80" x2="139.50" y2="455.30" stroke="#c8102e" stroke-width="1.2"/>
<line x1="139.50" y1="457.80" x2="139.50" y2="455.30" stroke="#c8102e" stroke-width="1.2"/>
<line x1="144.50" y1="457.80" x2="144.50" y2="455.30" stroke="#c8102e" stroke-width="1.2"/>
<line x1="146.50" y1="457.80" x2="146.50" y2="455.30" stroke="#c8102e" stroke-width="1.2"/>
<line x1="149.50" y1="457.80" x2="149.50" y2="455.30" stroke="#c8102e" stroke-width="1.2"/>
<line x1="150.50" y1="457.80" x2="150.50" y2="455.30" stroke="#c8102e" stroke-width="1.2"/>
<line x1="153.50" y1="457.80" x2="153.50" y2="455.30" stroke="#c8102e" stroke-width="1.2"/>
<line x1="155.50" y1="457.80" x2="155.50" y2="455.30" stroke="#c8102e" stroke-width="1.2"/>
<line x1="160.50" y1="457.80" x2="160.50" y2="455.30" stroke="#c8102e" stroke-width="1.2"/>
<line x1="162.50" y1="457.80" x2="162.50" y2="455.30" stroke="#c8102e" stroke-width="1.2"/>
<line x1="166.50" y1="459.80" x2="166.50" y2="457.30" stroke="#c8102e" stroke-width="1.2"/>
<line x1="167.50" y1="459.80" x2="167.50" y2="457.30" stroke="#c8102e" stroke-width="1.2"/>
<line x1="171.50" y1="460.80" x2="171.50" y2="458.30" stroke="#c8102e" stroke-width="1.2"/>
<line x1="174.50" y1="460.80" x2="174.50" y2="458.30" stroke="#c8102e" stroke-width="1.2"/>
<line x1="175.50" y1="460.80" x2="175.50" y2="458.30" stroke="#c8102e" stroke-width="1.2"/>
<line x1="179.50" y1="464.80" x2="179.50" y2="462.30" stroke="#c8102e" stroke-width="1.2"/>
<line x1="183.50" y1="464.80" x2="183.50" y2="462.30" stroke="#c8102e" stroke-width="1.2"/>
<line x1="184.50" y1="464.80" x2="184.50" y2="462.30" stroke="#c8102e" stroke-width="1.2"/>
<line x1="187.50" y1="464.80" x2="187.50" y2="462.30" stroke="#c8102e" stroke-width="1.2"/>
<line x1="189.50" y1="464.80" x2="189.50" y2="462.30" stroke="#c8102e" stroke-width="1.2"/>
<line x1="193.50" y1="464.80" x2="193.50" y2="462.30" stroke="#c8102e" stroke-width="1.2"/>
<line x1="194.50" y1="464.80" x2="194.50" y2="462.30" stroke="#c8102e" stroke-width="1.2"/>
<line x1="198.50" y1="464.80" x2="198.50" y2="462.30" stroke="#c8102e" stroke-width="1.2"/>
<line x1="201.50" y1="464.80" x2="201.50" y2="462.30" stroke="#c8102e" stroke-width="1.2"/>
<line x1="204.50" y1="467.80" x2="204.50" y2="465.30" stroke="#c8102e" stroke-width="1.2"/>
<line x1="205.50" y1="467.80" x2="205.50" y2="465.30" stroke="#c8102e" stroke-width="1.2"/>
<line x1="210.50" y1="467.80" x2="210.50" y2="465.30" stroke="#c8102e" stroke-width="1.2"/>
<path d="M42.5,423.5 H43.5 V431.5 H45.5 V434.5 H54.5 V436.5 H56.5 V443.5 H57.5 V448.5 H58.5 V452.5 H76.5 V456.5 H87.5 V460.5 H102.5 V464.5 H106.5 V464.5 H108.5 V468.5 H122.5 V468.5 H126.5 V474.5 H153.5" fill="none" stroke="#1d5893" stroke-width="1.3"/>
<path d="M153.5,474.5 H154.5 V482.5 H211.5" fill="none" stroke="#1d5893" stroke-width="1.3"/>
<line x1="67.5" y1="452.8" x2="67.5" y2="450.2" stroke="#1d5893" stroke-width="1"/>
<line x1="74.5" y1="452.8" x2="74.5" y2="450.2" stroke="#1d5893" stroke-width="1"/>
<line x1="80.5" y1="456.8" x2="80.5" y2="454.2" stroke="#1d5893" stroke-width="1"/>
<line x1="82.5" y1="456.8" x2="82.5" y2="454.2" stroke="#1d5893" stroke-width="1"/>
<line x1="104.5" y1="464.8" x2="104.5" y2="462.2" stroke="#1d5893" stroke-width="1"/>
<line x1="110.5" y1="468.8" x2="110.5" y2="466.2" stroke="#1d5893" stroke-width="1"/>
<line x1="133.5" y1="474.8" x2="133.5" y2="472.2" stroke="#1d5893" stroke-width="1"/>
<line x1="153.5" y1="474.8" x2="153.5" y2="472.2" stroke="#1d5893" stroke-width="1"/>
<line x1="166.5" y1="482.8" x2="166.5" y2="480.2" stroke="#1d5893" stroke-width="1"/>
<line x1="170.5" y1="482.8" x2="170.5" y2="480.2" stroke="#1d5893" stroke-width="1"/>
<line x1="182.5" y1="482.8" x2="182.5" y2="480.2" stroke="#1d5893" stroke-width="1"/>
<line x1="187.5" y1="482.8" x2="187.5" y2="480.2" stroke="#1d5893" stroke-width="1"/>
<line x1="202.5" y1="482.8" x2="202.5" y2="480.2" stroke="#1d5893" stroke-width="1"/>
<line x1="210.5" y1="482.8" x2="210.5" y2="480.2" stroke="#1d5893" stroke-width="1"/>
<path d="M44.5,422.5 H46.5 V429.5 H52.5 V436.5 H57.5 V443.5 H60.5 V450.5 H70.5 V458.5 H102.5 V469.5 H123.5 V482.5 H199.5" fill="none" stroke="#3cb54a" stroke-width="1.3"/>
<path d="M199.5,482.5 H199.5 V514.5 H211.5" fill="none" stroke="#3cb54a" stroke-width="1.3"/>
<line x1="66.5" y1="450.8" x2="66.5" y2="448.2" stroke="#3cb54a" stroke-width="1"/>
<line x1="96.5" y1="458.8" x2="96.5" y2="456.2" stroke="#3cb54a" stroke-width="1"/>
<line x1="100.5" y1="458.8" x2="100.5" y2="456.2" stroke="#3cb54a" stroke-width="1"/>
<line x1="131.5" y1="482.8" x2="131.5" y2="480.2" stroke="#3cb54a" stroke-width="1"/>
<line x1="166.5" y1="482.8" x2="166.5" y2="480.2" stroke="#3cb54a" stroke-width="1"/>
<line x1="173.5" y1="482.8" x2="173.5" y2="480.2" stroke="#3cb54a" stroke-width="1"/>
<line x1="187.5" y1="482.8" x2="187.5" y2="480.2" stroke="#3cb54a" stroke-width="1"/>
<line x1="189.5" y1="482.8" x2="189.5" y2="480.2" stroke="#3cb54a" stroke-width="1"/>
<path d="M42.5,424.5 H42.5 V434.5 H45.5 V445.5 H51.5 V467.5 H56.5 V479.5 H61.5 V489.5 H83.5 V500.5 H125.5 V523.5 H211.5" fill="none" stroke="#5c2d8c" stroke-width="1.3"/>
<line x1="117.5" y1="500.8" x2="117.5" y2="498.2" stroke="#5c2d8c" stroke-width="1"/>
<line x1="120.5" y1="500.8" x2="120.5" y2="498.2" stroke="#5c2d8c" stroke-width="1"/>
<path d="M307.50,433.50 V432.50 H309.50 V432.50 H311.50 V433.50 H313.50 V434.50 H315.50 V435.50 H318.50 V435.50 H320.50 V435.50 H322.50 V436.50 H324.50 V436.50 H326.50 V437.50 H329.50 V437.50 H331.50 V437.50 H333.50 V437.50 H335.50 V437.50 H337.50 V437.50 H340.50 V438.50 H342.50 V438.50 H344.50 V438.50 H346.50 V439.50 H348.50 V439.50 H351.50 V440.50 H353.50 V440.50 H355.50 V441.50 H357.50 V442.50 H359.50 V442.50 H362.50 V442.50 H364.50 V442.50 H366.50 V442.50 H368.50 V442.50 H370.50 V442.50 H373.50 V442.50 H375.50 V443.50 H377.50 V443.50 H379.50 V444.50 H381.50 V444.50 H384.50 V445.50 H386.50 V445.50 H388.50 V445.50 H390.50 V445.50 H392.50 V445.50 H395.50 V448.50 H397.50 V448.50 H399.50 V448.50 H401.50 V448.50 H403.50 V448.50 H406.50 V448.50 H408.50 V448.50 H410.50 V448.50 H412.50 V448.50 H414.50 V448.50 H417.50 V448.50 H419.50 V448.50 H421.50 V448.50 H423.50 V448.50 H425.50 V448.50 H428.50 V448.50 H430.50 V448.50 H432.50 V448.50 H434.50 V448.50 H436.50 V448.50 H439.50 V448.50 H441.50 V448.50 H443.50 V448.50 H445.50 V448.50 H447.50 V448.50 H450.50 V448.50 H450.50 V448.50" fill="none" stroke="#c8102e" stroke-width="1.6"/>
<line x1="308.50" y1="432.80" x2="308.50" y2="430.50" stroke="#c8102e" stroke-width="1.2"/>
<line x1="311.50" y1="432.80" x2="311.50" y2="430.50" stroke="#c8102e" stroke-width="1.2"/>
<line x1="313.50" y1="434.80" x2="313.50" y2="432.50" stroke="#c8102e" stroke-width="1.2"/>
<line x1="315.50" y1="434.80" x2="315.50" y2="432.50" stroke="#c8102e" stroke-width="1.2"/>
<line x1="317.50" y1="435.80" x2="317.50" y2="433.50" stroke="#c8102e" stroke-width="1.2"/>
<line x1="321.50" y1="435.80" x2="321.50" y2="433.50" stroke="#c8102e" stroke-width="1.2"/>
<line x1="322.50" y1="436.80" x2="322.50" y2="434.50" stroke="#c8102e" stroke-width="1.2"/>
<line x1="324.50" y1="436.80" x2="324.50" y2="434.50" stroke="#c8102e" stroke-width="1.2"/>
<line x1="326.50" y1="436.80" x2="326.50" y2="434.50" stroke="#c8102e" stroke-width="1.2"/>
<line x1="329.50" y1="437.80" x2="329.50" y2="435.50" stroke="#c8102e" stroke-width="1.2"/>
<line x1="331.50" y1="437.80" x2="331.50" y2="435.50" stroke="#c8102e" stroke-width="1.2"/>
<line x1="334.50" y1="437.80" x2="334.50" y2="435.50" stroke="#c8102e" stroke-width="1.2"/>
<line x1="336.50" y1="437.80" x2="336.50" y2="435.50" stroke="#c8102e" stroke-width="1.2"/>
<line x1="338.50" y1="437.80" x2="338.50" y2="435.50" stroke="#c8102e" stroke-width="1.2"/>
<line x1="341.50" y1="438.80" x2="341.50" y2="436.50" stroke="#c8102e" stroke-width="1.2"/>
<line x1="344.50" y1="438.80" x2="344.50" y2="436.50" stroke="#c8102e" stroke-width="1.2"/>
<line x1="345.50" y1="438.80" x2="345.50" y2="436.50" stroke="#c8102e" stroke-width="1.2"/>
<line x1="347.50" y1="439.80" x2="347.50" y2="437.50" stroke="#c8102e" stroke-width="1.2"/>
<line x1="350.50" y1="439.80" x2="350.50" y2="437.50" stroke="#c8102e" stroke-width="1.2"/>
<line x1="353.50" y1="440.80" x2="353.50" y2="438.50" stroke="#c8102e" stroke-width="1.2"/>
<line x1="355.50" y1="441.80" x2="355.50" y2="439.50" stroke="#c8102e" stroke-width="1.2"/>
<line x1="359.50" y1="442.80" x2="359.50" y2="440.50" stroke="#c8102e" stroke-width="1.2"/>
<line x1="361.50" y1="442.80" x2="361.50" y2="440.50" stroke="#c8102e" stroke-width="1.2"/>
<line x1="363.50" y1="442.80" x2="363.50" y2="440.50" stroke="#c8102e" stroke-width="1.2"/>
<line x1="364.50" y1="442.80" x2="364.50" y2="440.50" stroke="#c8102e" stroke-width="1.2"/>
<line x1="368.50" y1="442.80" x2="368.50" y2="440.50" stroke="#c8102e" stroke-width="1.2"/>
<line x1="371.50" y1="442.80" x2="371.50" y2="440.50" stroke="#c8102e" stroke-width="1.2"/>
<line x1="372.50" y1="442.80" x2="372.50" y2="440.50" stroke="#c8102e" stroke-width="1.2"/>
<line x1="375.50" y1="443.80" x2="375.50" y2="441.50" stroke="#c8102e" stroke-width="1.2"/>
<line x1="377.50" y1="443.80" x2="377.50" y2="441.50" stroke="#c8102e" stroke-width="1.2"/>
<line x1="380.50" y1="443.80" x2="380.50" y2="441.50" stroke="#c8102e" stroke-width="1.2"/>
<line x1="383.50" y1="444.80" x2="383.50" y2="442.50" stroke="#c8102e" stroke-width="1.2"/>
<line x1="385.50" y1="445.80" x2="385.50" y2="443.50" stroke="#c8102e" stroke-width="1.2"/>
<line x1="388.50" y1="445.80" x2="388.50" y2="443.50" stroke="#c8102e" stroke-width="1.2"/>
<line x1="388.50" y1="445.80" x2="388.50" y2="443.50" stroke="#c8102e" stroke-width="1.2"/>
<line x1="391.50" y1="445.80" x2="391.50" y2="443.50" stroke="#c8102e" stroke-width="1.2"/>
<line x1="394.50" y1="445.80" x2="394.50" y2="443.50" stroke="#c8102e" stroke-width="1.2"/>
<line x1="397.50" y1="448.80" x2="397.50" y2="446.50" stroke="#c8102e" stroke-width="1.2"/>
<line x1="398.50" y1="448.80" x2="398.50" y2="446.50" stroke="#c8102e" stroke-width="1.2"/>
<line x1="400.50" y1="448.80" x2="400.50" y2="446.50" stroke="#c8102e" stroke-width="1.2"/>
<line x1="404.50" y1="448.80" x2="404.50" y2="446.50" stroke="#c8102e" stroke-width="1.2"/>
<line x1="405.50" y1="448.80" x2="405.50" y2="446.50" stroke="#c8102e" stroke-width="1.2"/>
<line x1="409.50" y1="448.80" x2="409.50" y2="446.50" stroke="#c8102e" stroke-width="1.2"/>
<line x1="409.50" y1="448.80" x2="409.50" y2="446.50" stroke="#c8102e" stroke-width="1.2"/>
<line x1="413.50" y1="448.80" x2="413.50" y2="446.50" stroke="#c8102e" stroke-width="1.2"/>
<line x1="415.50" y1="448.80" x2="415.50" y2="446.50" stroke="#c8102e" stroke-width="1.2"/>
<line x1="417.50" y1="448.80" x2="417.50" y2="446.50" stroke="#c8102e" stroke-width="1.2"/>
<line x1="420.50" y1="448.80" x2="420.50" y2="446.50" stroke="#c8102e" stroke-width="1.2"/>
<line x1="422.50" y1="448.80" x2="422.50" y2="446.50" stroke="#c8102e" stroke-width="1.2"/>
<line x1="424.50" y1="448.80" x2="424.50" y2="446.50" stroke="#c8102e" stroke-width="1.2"/>
<line x1="428.50" y1="448.80" x2="428.50" y2="446.50" stroke="#c8102e" stroke-width="1.2"/>
<line x1="430.50" y1="448.80" x2="430.50" y2="446.50" stroke="#c8102e" stroke-width="1.2"/>
<line x1="433.50" y1="448.80" x2="433.50" y2="446.50" stroke="#c8102e" stroke-width="1.2"/>
<line x1="434.50" y1="448.80" x2="434.50" y2="446.50" stroke="#c8102e" stroke-width="1.2"/>
<line x1="436.50" y1="448.80" x2="436.50" y2="446.50" stroke="#c8102e" stroke-width="1.2"/>
<line x1="439.50" y1="448.80" x2="439.50" y2="446.50" stroke="#c8102e" stroke-width="1.2"/>
<line x1="441.50" y1="448.80" x2="441.50" y2="446.50" stroke="#c8102e" stroke-width="1.2"/>
<line x1="444.50" y1="448.80" x2="444.50" y2="446.50" stroke="#c8102e" stroke-width="1.2"/>
<line x1="446.50" y1="448.80" x2="446.50" y2="446.50" stroke="#c8102e" stroke-width="1.2"/>
<line x1="448.50" y1="448.80" x2="448.50" y2="446.50" stroke="#c8102e" stroke-width="1.2"/>
<path d="M307.5,433.5 H312.5 V439.5 H333.5 V446.5 H351.5 V457.5 H399.5 V486.5 H448.5" fill="none" stroke="#3cb54a" stroke-width="1.3"/>
<line x1="316.5" y1="439.8" x2="316.5" y2="437.2" stroke="#3cb54a" stroke-width="1"/>
<line x1="320.5" y1="439.8" x2="320.5" y2="437.2" stroke="#3cb54a" stroke-width="1"/>
<line x1="339.5" y1="446.8" x2="339.5" y2="444.2" stroke="#3cb54a" stroke-width="1"/>
<line x1="347.5" y1="446.8" x2="347.5" y2="444.2" stroke="#3cb54a" stroke-width="1"/>
<line x1="378.5" y1="457.8" x2="378.5" y2="455.2" stroke="#3cb54a" stroke-width="1"/>
<line x1="384.5" y1="457.8" x2="384.5" y2="455.2" stroke="#3cb54a" stroke-width="1"/>
<line x1="386.5" y1="457.8" x2="386.5" y2="455.2" stroke="#3cb54a" stroke-width="1"/>
<line x1="422.5" y1="486.8" x2="422.5" y2="484.2" stroke="#3cb54a" stroke-width="1"/>
<line x1="448.5" y1="486.8" x2="448.5" y2="484.2" stroke="#3cb54a" stroke-width="1"/>
<path d="M307.5,433.5 H308.5 V440.5 H314.5 V443.5 H316.5 V446.5 H325.5 V449.5 H335.5 V452.5 H343.5 V456.5 H346.5 V461.5 H353.5 V466.5 H437.5" fill="none" stroke="#1d5893" stroke-width="1.3"/>
<line x1="320.5" y1="446.8" x2="320.5" y2="444.2" stroke="#1d5893" stroke-width="1"/>
<line x1="323.5" y1="446.8" x2="323.5" y2="444.2" stroke="#1d5893" stroke-width="1"/>
<line x1="328.5" y1="449.8" x2="328.5" y2="447.2" stroke="#1d5893" stroke-width="1"/>
<line x1="330.5" y1="449.8" x2="330.5" y2="447.2" stroke="#1d5893" stroke-width="1"/>
<line x1="342.5" y1="452.8" x2="342.5" y2="450.2" stroke="#1d5893" stroke-width="1"/>
<line x1="356.5" y1="466.8" x2="356.5" y2="464.2" stroke="#1d5893" stroke-width="1"/>
<line x1="364.5" y1="466.8" x2="364.5" y2="464.2" stroke="#1d5893" stroke-width="1"/>
<line x1="370.5" y1="466.8" x2="370.5" y2="464.2" stroke="#1d5893" stroke-width="1"/>
<line x1="376.5" y1="466.8" x2="376.5" y2="464.2" stroke="#1d5893" stroke-width="1"/>
<line x1="379.5" y1="466.8" x2="379.5" y2="464.2" stroke="#1d5893" stroke-width="1"/>
<line x1="385.5" y1="466.8" x2="385.5" y2="464.2" stroke="#1d5893" stroke-width="1"/>
<line x1="395.5" y1="466.8" x2="395.5" y2="464.2" stroke="#1d5893" stroke-width="1"/>
<line x1="412.5" y1="466.8" x2="412.5" y2="464.2" stroke="#1d5893" stroke-width="1"/>
<line x1="415.5" y1="466.8" x2="415.5" y2="464.2" stroke="#1d5893" stroke-width="1"/>
<line x1="424.5" y1="466.8" x2="424.5" y2="464.2" stroke="#1d5893" stroke-width="1"/>
<line x1="437.5" y1="466.8" x2="437.5" y2="464.2" stroke="#1d5893" stroke-width="1"/>
<path d="M306.5,442.5 H308.5 V443.5 H309.5 V453.5 H312.5 V464.5 H316.5 V474.5 H422.5" fill="none" stroke="#5c2d8c" stroke-width="1.3"/>
<line x1="321.5" y1="474.8" x2="321.5" y2="472.2" stroke="#5c2d8c" stroke-width="1"/>
<line x1="348.5" y1="474.8" x2="348.5" y2="472.2" stroke="#5c2d8c" stroke-width="1"/>
<line x1="350.5" y1="474.8" x2="350.5" y2="472.2" stroke="#5c2d8c" stroke-width="1"/>
<line x1="374.5" y1="474.8" x2="374.5" y2="472.2" stroke="#5c2d8c" stroke-width="1"/>
<line x1="408.5" y1="474.8" x2="408.5" y2="472.2" stroke="#5c2d8c" stroke-width="1"/>
<line x1="422.5" y1="474.8" x2="422.5" y2="472.2" stroke="#5c2d8c" stroke-width="1"/>
</svg></body></html>
